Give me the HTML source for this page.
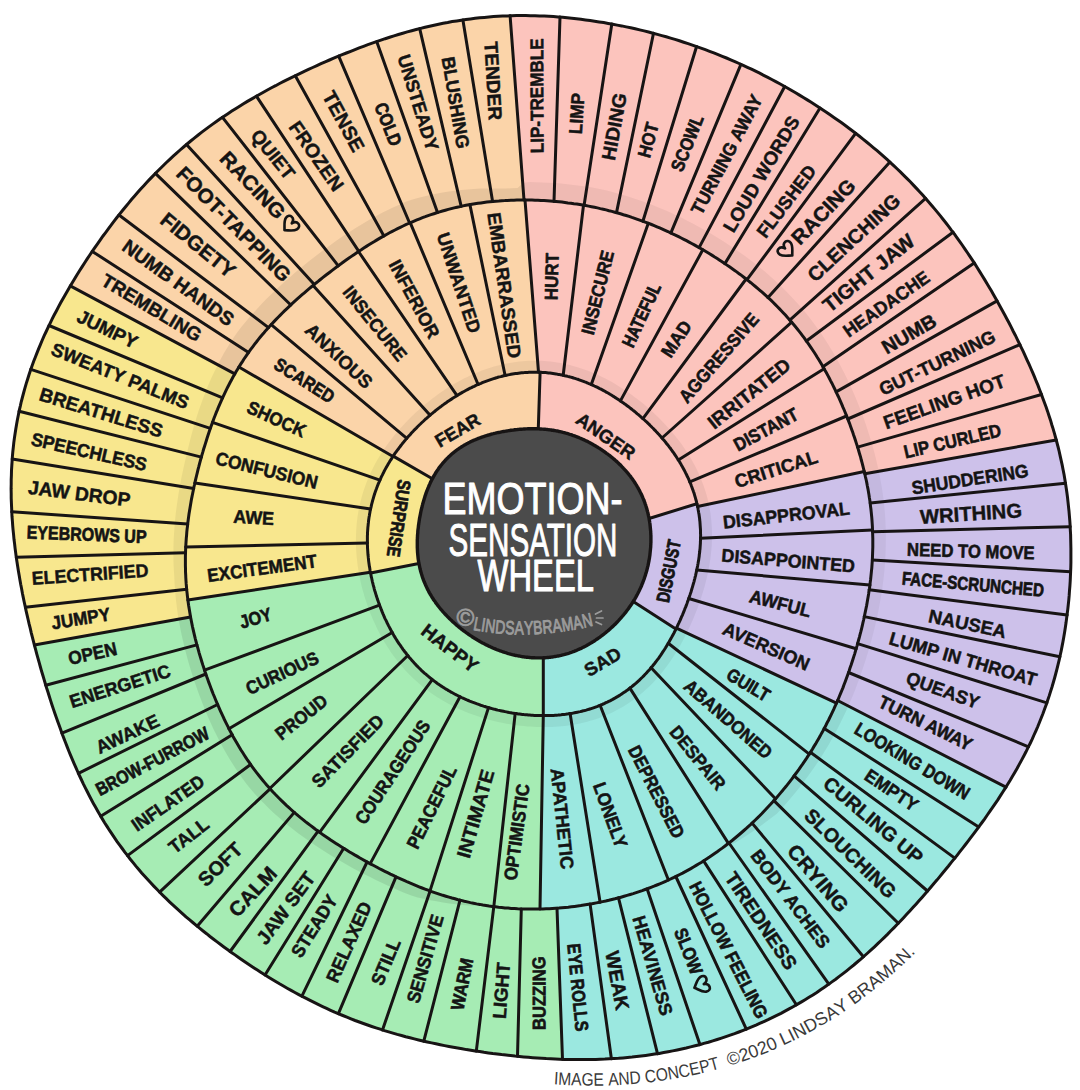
<!DOCTYPE html>
<html><head><meta charset="utf-8"><title>Emotion-Sensation Wheel</title>
<style>html,body{margin:0;padding:0;background:#fff;}body{width:1080px;height:1090px;overflow:hidden;font-family:"Liberation Sans",sans-serif;}svg{display:block;}</style>
</head><body>
<svg width="1080" height="1090" viewBox="0 0 1080 1090">
<rect width="1080" height="1090" fill="#ffffff"/>
<path d="M524.0 200.0 L510.1 15.8 L519.2 15.6 L528.4 15.6 L537.6 15.8 L546.7 16.2 L555.9 16.8 L565.0 17.6 L574.1 18.5 L583.1 19.6 L592.2 20.8 L601.2 22.2 L610.2 23.7 L619.2 25.4 L628.1 27.3 L637.0 29.2 L645.8 31.4 L654.6 33.6 L663.4 36.0 L672.1 38.6 L680.8 41.2 L689.4 44.1 L698.0 47.0 L706.5 50.1 L715.0 53.4 L723.4 56.7 L731.7 60.3 L740.0 63.9 L748.2 67.7 L756.4 71.6 L764.5 75.7 L772.5 79.8 L780.4 84.1 L788.3 88.5 L796.1 93.1 L803.9 97.7 L811.5 102.5 L819.1 107.4 L826.6 112.4 L834.1 117.5 L841.4 122.7 L848.7 128.1 L855.9 133.5 L863.0 139.1 L870.0 144.8 L876.9 150.6 L883.7 156.5 L890.4 162.6 L897.0 168.7 L903.5 175.0 L909.9 181.5 L916.1 188.0 L922.3 194.6 L928.3 201.4 L934.1 208.3 L939.9 215.2 L945.5 222.3 L951.0 229.5 L956.3 236.8 L961.6 244.1 L966.7 251.6 L971.7 259.1 L976.6 266.7 L981.4 274.3 L986.1 282.0 L990.7 289.8 L995.2 297.6 L999.7 305.5 L1004.0 313.5 L1008.2 321.5 L1012.4 329.5 L1016.5 337.6 L1020.5 345.8 L1024.4 354.0 L1028.1 362.3 L1031.8 370.7 L1035.4 379.1 L1038.8 387.6 L1042.1 396.1 L1045.2 404.7 L1048.2 413.4 L1051.1 422.2 L1053.7 431.0 L1056.2 439.9 L864.8 473.8 L863.5 468.1 L862.0 462.4 L860.5 456.8 L858.8 451.2 L857.1 445.6 L855.3 440.0 L853.4 434.4 L851.5 428.9 L849.5 423.4 L847.4 417.9 L845.2 412.5 L842.9 407.1 L840.6 401.7 L838.2 396.4 L835.7 391.0 L833.1 385.8 L830.5 380.5 L827.7 375.3 L824.9 370.2 L822.0 365.1 L819.0 360.0 L815.8 355.0 L812.6 350.0 L809.3 345.2 L805.9 340.3 L802.4 335.6 L798.8 330.9 L795.1 326.3 L791.3 321.8 L787.4 317.4 L783.5 313.0 L779.4 308.7 L775.2 304.5 L771.0 300.4 L766.7 296.4 L762.3 292.4 L757.8 288.5 L753.3 284.7 L748.7 281.0 L744.1 277.4 L739.4 273.8 L734.6 270.4 L729.8 267.0 L724.9 263.6 L720.0 260.4 L715.0 257.2 L710.0 254.1 L705.0 251.0 L699.9 248.0 L694.7 245.1 L689.5 242.3 L684.3 239.6 L679.0 236.9 L673.7 234.3 L668.4 231.8 L663.0 229.3 L657.5 227.0 L652.1 224.7 L646.5 222.6 L641.0 220.5 L635.4 218.5 L629.8 216.6 L624.1 214.9 L618.4 213.2 L612.6 211.6 L606.9 210.1 L601.1 208.7 L595.3 207.5 L589.4 206.3 L583.6 205.2 L577.7 204.2 L571.8 203.4 L565.8 202.6 L559.9 201.9 L553.9 201.4 L548.0 200.9 L542.0 200.5 L536.0 200.3 L530.0 200.1 L524.0 200.0Z" fill="#FCC4BD" stroke="#FCC4BD" stroke-width="0.8"/>
<path d="M864.8 473.8 L1056.2 439.9 L1058.5 448.8 L1060.6 457.8 L1062.5 466.8 L1064.2 475.9 L1065.8 485.0 L1067.1 494.1 L1068.2 503.3 L1069.1 512.5 L1069.9 521.7 L1070.4 531.0 L1070.7 540.2 L1070.9 549.5 L1070.9 558.7 L1070.7 568.0 L1070.4 577.3 L1069.8 586.5 L1069.1 595.8 L1068.2 605.0 L1067.2 614.2 L1066.0 623.4 L1064.5 632.6 L1062.9 641.7 L1061.2 650.8 L1059.2 659.9 L1057.0 668.9 L1054.6 677.9 L1052.1 686.8 L1049.3 695.6 L1046.3 704.4 L1043.1 713.1 L1039.7 721.7 L1036.1 730.2 L1032.4 738.6 L1028.4 747.0 L1024.2 755.2 L1019.9 763.4 L1015.4 771.4 L1010.7 779.3 L1005.9 787.2 L837.6 700.5 L839.9 695.1 L842.1 689.7 L844.2 684.2 L846.3 678.8 L848.3 673.3 L850.2 667.8 L852.0 662.3 L853.7 656.7 L855.4 651.2 L857.1 645.6 L858.6 640.0 L860.1 634.4 L861.5 628.8 L862.9 623.2 L864.1 617.5 L865.3 611.9 L866.5 606.2 L867.5 600.5 L868.5 594.8 L869.3 589.1 L870.1 583.3 L870.8 577.6 L871.4 571.8 L871.9 566.0 L872.3 560.2 L872.6 554.4 L872.7 548.6 L872.8 542.8 L872.8 537.0 L872.6 531.2 L872.3 525.4 L871.9 519.6 L871.4 513.9 L870.8 508.1 L870.1 502.3 L869.2 496.6 L868.3 490.9 L867.2 485.2 L866.1 479.5 L864.8 473.8Z" fill="#CDC1EA" stroke="#CDC1EA" stroke-width="0.8"/>
<path d="M837.6 700.5 L1005.9 787.2 L1000.9 794.9 L995.9 802.6 L990.7 810.2 L985.4 817.7 L980.0 825.2 L974.6 832.5 L969.1 839.8 L963.5 847.1 L957.9 854.2 L952.2 861.3 L946.5 868.4 L940.7 875.4 L934.9 882.4 L929.0 889.3 L923.0 896.2 L917.0 903.0 L910.9 909.8 L904.7 916.5 L898.5 923.1 L892.1 929.6 L885.7 936.1 L879.1 942.5 L872.4 948.7 L865.6 954.8 L858.7 960.8 L851.7 966.7 L844.5 972.4 L837.2 978.0 L829.8 983.4 L822.3 988.7 L814.6 993.8 L806.8 998.7 L798.9 1003.4 L791.0 1007.9 L782.9 1012.3 L774.7 1016.4 L766.4 1020.4 L758.0 1024.2 L749.6 1027.8 L741.0 1031.2 L732.4 1034.4 L723.8 1037.4 L715.0 1040.2 L706.2 1042.8 L697.4 1045.2 L688.5 1047.4 L679.6 1049.5 L670.7 1051.3 L661.7 1053.0 L652.7 1054.4 L643.7 1055.7 L634.7 1056.8 L625.6 1057.7 L616.6 1058.4 L607.5 1058.9 L598.5 1059.3 L589.5 1059.6 L580.5 1059.6 L571.4 1059.5 L562.5 1059.3 L557.0 908.2 L563.3 907.7 L569.5 907.0 L575.8 906.3 L582.0 905.4 L588.2 904.4 L594.4 903.3 L600.5 902.1 L606.6 900.8 L612.7 899.3 L618.8 897.8 L624.8 896.1 L630.8 894.3 L636.8 892.4 L642.7 890.4 L648.6 888.3 L654.4 886.0 L660.2 883.7 L665.9 881.2 L671.5 878.6 L677.1 875.8 L682.7 873.0 L688.2 870.1 L693.6 867.0 L698.9 863.8 L704.2 860.5 L709.4 857.2 L714.5 853.7 L719.5 850.1 L724.5 846.4 L729.3 842.7 L734.1 838.8 L738.9 834.9 L743.5 830.9 L748.1 826.8 L752.6 822.6 L757.0 818.4 L761.3 814.1 L765.5 809.7 L769.7 805.3 L773.8 800.8 L777.8 796.2 L781.7 791.6 L785.5 787.0 L789.3 782.2 L793.0 777.5 L796.5 772.7 L800.0 767.8 L803.5 762.9 L806.8 757.9 L810.0 752.9 L813.2 747.8 L816.3 742.7 L819.2 737.6 L822.1 732.4 L824.9 727.1 L827.6 721.9 L830.3 716.6 L832.8 711.2 L835.3 705.9 L837.6 700.5Z" fill="#9BE8E0" stroke="#9BE8E0" stroke-width="0.8"/>
<path d="M557.0 908.2 L562.5 1059.3 L553.5 1059.0 L544.5 1058.5 L535.6 1057.9 L526.7 1057.2 L517.8 1056.3 L508.9 1055.4 L500.1 1054.4 L491.3 1053.3 L482.5 1052.0 L473.7 1050.7 L464.9 1049.3 L456.2 1047.8 L447.5 1046.2 L438.8 1044.5 L430.2 1042.6 L421.5 1040.6 L412.9 1038.6 L404.4 1036.3 L395.9 1034.0 L387.4 1031.5 L378.9 1028.8 L370.5 1026.0 L362.2 1023.1 L353.9 1020.0 L345.7 1016.7 L337.5 1013.3 L329.4 1009.7 L321.4 1006.0 L313.5 1002.2 L305.6 998.2 L297.8 994.1 L290.0 989.8 L282.3 985.4 L274.7 980.9 L267.2 976.3 L259.7 971.6 L252.3 966.8 L245.0 961.9 L237.7 956.9 L230.5 951.8 L223.3 946.6 L216.2 941.3 L209.2 935.9 L202.3 930.3 L195.4 924.7 L188.6 919.0 L181.9 913.2 L175.4 907.2 L168.9 901.2 L162.5 895.0 L156.2 888.6 L150.1 882.2 L144.1 875.6 L138.3 868.8 L132.6 862.0 L127.0 855.0 L121.7 847.9 L116.5 840.6 L111.5 833.3 L106.6 825.8 L101.9 818.2 L97.4 810.5 L93.1 802.7 L88.9 794.9 L84.9 786.9 L81.0 778.9 L77.3 770.8 L73.7 762.7 L70.3 754.5 L67.0 746.3 L63.8 738.0 L60.7 729.7 L57.7 721.4 L54.8 713.0 L52.0 704.6 L49.2 696.2 L46.6 687.8 L44.0 679.3 L41.5 670.8 L39.1 662.3 L36.7 653.7 L34.4 645.1 L190.6 616.9 L191.7 622.9 L193.0 628.9 L194.4 634.9 L195.9 640.8 L197.4 646.8 L199.1 652.7 L200.8 658.6 L202.7 664.4 L204.6 670.3 L206.6 676.1 L208.6 681.9 L210.8 687.7 L213.0 693.4 L215.3 699.1 L217.7 704.8 L220.2 710.5 L222.8 716.1 L225.5 721.7 L228.2 727.3 L231.1 732.8 L234.1 738.3 L237.2 743.7 L240.4 749.0 L243.7 754.3 L247.2 759.5 L250.7 764.7 L254.4 769.7 L258.2 774.7 L262.1 779.5 L266.2 784.3 L270.3 789.0 L274.6 793.6 L278.9 798.1 L283.4 802.5 L288.0 806.8 L292.6 810.9 L297.4 815.0 L302.2 819.0 L307.1 822.9 L312.0 826.7 L317.1 830.4 L322.1 834.1 L327.3 837.6 L332.4 841.1 L337.7 844.5 L342.9 847.8 L348.3 851.1 L353.6 854.3 L359.0 857.4 L364.4 860.5 L369.9 863.5 L375.4 866.4 L380.9 869.3 L386.5 872.1 L392.1 874.9 L397.8 877.6 L403.5 880.2 L409.2 882.7 L415.0 885.1 L420.8 887.5 L426.7 889.7 L432.6 891.8 L438.6 893.9 L444.6 895.8 L450.6 897.6 L456.7 899.3 L462.8 900.8 L469.0 902.3 L475.2 903.6 L481.4 904.7 L487.6 905.7 L493.9 906.6 L500.2 907.4 L506.5 908.0 L512.8 908.5 L519.1 908.8 L525.4 909.0 L531.8 909.1 L538.1 909.1 L544.4 908.9 L550.7 908.6 L557.0 908.2Z" fill="#A6ECB4" stroke="#A6ECB4" stroke-width="0.8"/>
<path d="M190.6 616.9 L34.4 645.1 L32.2 636.6 L30.1 628.0 L28.1 619.4 L26.1 610.8 L24.3 602.1 L22.5 593.4 L20.8 584.6 L19.2 575.8 L17.8 567.0 L16.4 558.1 L15.2 549.1 L14.1 540.2 L13.2 531.2 L12.4 522.2 L11.8 513.1 L11.4 504.0 L11.2 494.9 L11.1 485.8 L11.3 476.7 L11.7 467.5 L12.3 458.4 L13.1 449.3 L14.2 440.2 L15.4 431.1 L17.0 422.0 L18.7 413.0 L20.7 404.0 L23.0 395.1 L25.4 386.3 L28.1 377.5 L31.0 368.8 L34.2 360.1 L37.5 351.5 L41.0 343.1 L44.7 334.7 L48.6 326.3 L52.7 318.1 L56.9 309.9 L61.2 301.8 L65.7 293.8 L70.3 285.9 L234.8 373.9 L231.9 379.1 L229.1 384.3 L226.4 389.6 L223.9 395.0 L221.4 400.4 L219.0 405.9 L216.7 411.4 L214.6 416.9 L212.5 422.5 L210.5 428.1 L208.5 433.7 L206.7 439.4 L204.9 445.0 L203.2 450.7 L201.5 456.5 L200.0 462.2 L198.5 467.9 L197.0 473.7 L195.6 479.5 L194.3 485.3 L193.1 491.2 L191.9 497.0 L190.9 502.9 L189.9 508.8 L188.9 514.8 L188.1 520.7 L187.4 526.7 L186.8 532.6 L186.3 538.6 L185.9 544.7 L185.6 550.7 L185.4 556.7 L185.4 562.8 L185.5 568.8 L185.7 574.8 L186.0 580.9 L186.5 586.9 L187.0 592.9 L187.7 599.0 L188.6 605.0 L189.5 611.0 L190.6 616.9Z" fill="#F8E78E" stroke="#F8E78E" stroke-width="0.8"/>
<path d="M234.8 373.9 L70.3 285.9 L75.0 278.1 L79.8 270.3 L84.8 262.6 L89.8 255.0 L95.0 247.4 L100.2 239.9 L105.6 232.5 L111.0 225.2 L116.6 218.0 L122.3 210.8 L128.1 203.7 L134.0 196.7 L140.0 189.9 L146.1 183.1 L152.4 176.5 L158.8 169.9 L165.3 163.5 L172.0 157.3 L178.8 151.2 L185.7 145.2 L192.7 139.4 L199.9 133.7 L207.2 128.2 L214.5 122.8 L222.0 117.6 L229.6 112.5 L237.3 107.6 L245.0 102.9 L252.9 98.2 L260.8 93.7 L268.7 89.3 L276.7 85.0 L284.8 80.9 L292.9 76.8 L301.1 72.9 L309.3 69.0 L317.5 65.3 L325.8 61.6 L334.2 58.0 L342.5 54.5 L350.9 51.2 L359.4 47.9 L367.9 44.7 L376.5 41.7 L385.1 38.8 L393.7 36.0 L402.4 33.3 L411.2 30.9 L420.0 28.5 L428.8 26.4 L437.7 24.4 L446.7 22.6 L455.7 21.1 L464.7 19.7 L473.7 18.5 L482.8 17.5 L491.9 16.7 L501.0 16.2 L510.1 15.8 L524.0 200.0 L518.0 200.1 L512.1 200.2 L506.1 200.5 L500.1 200.9 L494.1 201.4 L488.2 202.0 L482.2 202.7 L476.3 203.6 L470.4 204.5 L464.5 205.6 L458.6 206.9 L452.8 208.2 L447.0 209.7 L441.2 211.4 L435.5 213.2 L429.8 215.1 L424.2 217.1 L418.6 219.2 L413.0 221.5 L407.5 223.9 L402.1 226.4 L396.8 229.1 L391.4 231.8 L386.2 234.6 L381.0 237.5 L375.9 240.6 L370.8 243.6 L365.7 246.8 L360.8 250.0 L355.8 253.3 L350.9 256.7 L346.1 260.1 L341.3 263.6 L336.5 267.1 L331.8 270.6 L327.1 274.2 L322.5 277.9 L317.9 281.5 L313.3 285.3 L308.7 289.1 L304.2 292.9 L299.8 296.8 L295.4 300.7 L291.0 304.7 L286.7 308.8 L282.4 313.0 L278.2 317.2 L274.1 321.5 L270.1 325.8 L266.1 330.3 L262.2 334.8 L258.4 339.4 L254.7 344.1 L251.1 348.9 L247.7 353.7 L244.3 358.6 L241.0 363.6 L237.9 368.7 L234.8 373.9Z" fill="#FBD4A9" stroke="#FBD4A9" stroke-width="0.8"/>
<path d="M538.5 372.2 L525.0 200.0 L531.0 200.1 L536.9 200.3 L542.8 200.6 L548.8 200.9 L554.7 201.4 L560.6 202.0 L566.5 202.7 L572.4 203.5 L578.3 204.3 L584.1 205.3 L589.9 206.4 L595.7 207.6 L601.5 208.8 L607.2 210.2 L613.0 211.7 L618.7 213.3 L624.3 214.9 L630.0 216.7 L635.5 218.6 L641.1 220.5 L646.6 222.6 L652.1 224.8 L657.5 227.0 L662.9 229.3 L668.3 231.7 L673.6 234.2 L678.9 236.8 L684.1 239.5 L689.3 242.2 L694.5 245.0 L699.6 247.9 L704.6 250.8 L709.7 253.8 L714.6 256.9 L719.6 260.1 L724.4 263.3 L729.3 266.6 L734.1 270.0 L738.8 273.4 L743.5 277.0 L748.1 280.6 L752.7 284.2 L757.2 288.0 L761.6 291.8 L766.0 295.7 L770.3 299.7 L774.5 303.8 L778.6 307.9 L782.7 312.2 L786.7 316.5 L790.5 320.9 L794.3 325.4 L798.0 329.9 L801.6 334.5 L805.1 339.2 L808.5 344.0 L811.8 348.8 L815.0 353.7 L818.2 358.7 L821.2 363.7 L824.1 368.8 L827.0 373.9 L829.7 379.0 L832.4 384.2 L834.9 389.4 L837.4 394.7 L839.9 400.0 L842.2 405.3 L844.5 410.7 L846.6 416.1 L848.8 421.5 L850.8 427.0 L852.8 432.4 L854.6 437.9 L856.5 443.5 L858.2 449.0 L859.8 454.6 L861.4 460.2 L862.9 465.8 L864.3 471.5 L697.5 506.5 L696.9 503.7 L696.2 500.9 L695.5 498.1 L694.7 495.3 L693.8 492.5 L692.8 489.8 L691.9 487.0 L690.8 484.3 L689.7 481.7 L688.6 479.0 L687.3 476.4 L686.1 473.8 L684.8 471.2 L683.4 468.6 L682.0 466.1 L680.6 463.6 L679.1 461.1 L677.5 458.7 L675.9 456.2 L674.3 453.9 L672.6 451.5 L670.9 449.2 L669.2 446.9 L667.4 444.6 L665.6 442.3 L663.8 440.1 L661.9 437.9 L660.0 435.8 L658.1 433.6 L656.1 431.5 L654.1 429.4 L652.1 427.4 L650.1 425.3 L648.0 423.3 L645.9 421.4 L643.8 419.4 L641.7 417.5 L639.5 415.6 L637.3 413.7 L635.1 411.9 L632.8 410.1 L630.5 408.3 L628.2 406.5 L625.9 404.8 L623.5 403.1 L621.2 401.4 L618.8 399.8 L616.3 398.2 L613.9 396.6 L611.4 395.1 L608.9 393.6 L606.3 392.1 L603.7 390.7 L601.2 389.3 L598.5 388.0 L595.9 386.7 L593.2 385.4 L590.5 384.2 L587.8 383.1 L585.0 382.0 L582.3 380.9 L579.5 379.9 L576.6 379.0 L573.8 378.1 L570.9 377.2 L568.1 376.5 L565.2 375.7 L562.2 375.1 L559.3 374.5 L556.4 374.0 L553.4 373.5 L550.5 373.1 L547.5 372.8 L544.5 372.5 L541.5 372.3 L538.5 372.2Z" fill="#FCC4BD" stroke="#FCC4BD" stroke-width="0.8"/>
<path d="M697.5 506.5 L864.3 471.5 L865.6 477.1 L866.7 482.8 L867.8 488.5 L868.8 494.2 L869.7 499.9 L870.5 505.6 L871.2 511.4 L871.7 517.2 L872.2 522.9 L872.5 528.7 L872.7 534.5 L872.8 540.3 L872.8 546.1 L872.7 551.9 L872.4 557.7 L872.1 563.4 L871.6 569.2 L871.1 575.0 L870.4 580.7 L869.7 586.4 L868.9 592.2 L867.9 597.9 L866.9 603.6 L865.9 609.2 L864.7 614.9 L863.5 620.5 L862.2 626.2 L860.8 631.8 L859.3 637.4 L857.8 643.0 L856.2 648.5 L854.6 654.1 L852.8 659.6 L851.0 665.1 L849.2 670.6 L847.3 676.1 L845.2 681.6 L843.2 687.0 L841.0 692.4 L838.8 697.8 L836.5 703.2 L676.4 628.1 L677.6 625.6 L678.9 623.0 L680.0 620.4 L681.2 617.8 L682.3 615.2 L683.4 612.6 L684.5 609.9 L685.5 607.3 L686.5 604.7 L687.5 602.0 L688.4 599.4 L689.4 596.7 L690.3 594.0 L691.1 591.3 L692.0 588.6 L692.8 585.9 L693.6 583.2 L694.3 580.4 L695.0 577.7 L695.7 574.9 L696.3 572.2 L696.9 569.4 L697.5 566.6 L698.0 563.8 L698.5 561.0 L698.9 558.1 L699.3 555.3 L699.6 552.5 L699.9 549.6 L700.1 546.7 L700.3 543.9 L700.5 541.0 L700.5 538.1 L700.6 535.2 L700.5 532.3 L700.4 529.5 L700.3 526.6 L700.1 523.7 L699.8 520.8 L699.5 517.9 L699.1 515.1 L698.6 512.2 L698.1 509.3 L697.5 506.5Z" fill="#CDC1EA" stroke="#CDC1EA" stroke-width="0.8"/>
<path d="M676.4 628.1 L836.5 703.2 L834.0 708.6 L831.5 713.9 L828.9 719.3 L826.3 724.6 L823.5 729.8 L820.6 735.1 L817.7 740.3 L814.7 745.4 L811.5 750.5 L808.3 755.6 L805.0 760.6 L801.6 765.5 L798.2 770.4 L794.6 775.3 L790.9 780.1 L787.2 784.9 L783.4 789.6 L779.5 794.2 L775.5 798.8 L771.5 803.3 L767.3 807.8 L763.1 812.2 L758.8 816.6 L754.4 820.9 L749.9 825.1 L745.4 829.2 L740.8 833.3 L736.1 837.2 L731.3 841.1 L726.4 845.0 L721.5 848.7 L716.4 852.3 L711.3 855.8 L706.2 859.3 L700.9 862.6 L695.6 865.8 L690.2 868.9 L684.7 871.9 L679.2 874.8 L673.6 877.6 L667.9 880.2 L662.2 882.8 L656.4 885.2 L650.6 887.5 L644.7 889.7 L638.8 891.7 L632.8 893.7 L626.8 895.5 L620.8 897.2 L614.7 898.8 L608.6 900.3 L602.5 901.7 L596.3 902.9 L590.1 904.1 L583.9 905.1 L577.7 906.0 L571.4 906.8 L565.2 907.5 L558.9 908.1 L552.6 908.5 L546.3 908.8 L540.0 909.0 L543.3 715.6 L546.3 715.6 L549.3 715.6 L552.3 715.4 L555.2 715.3 L558.2 715.0 L561.2 714.8 L564.2 714.4 L567.1 714.0 L570.1 713.6 L573.0 713.1 L576.0 712.5 L578.9 711.9 L581.8 711.2 L584.7 710.5 L587.6 709.6 L590.5 708.8 L593.4 707.8 L596.2 706.8 L599.0 705.7 L601.8 704.6 L604.5 703.4 L607.3 702.1 L610.0 700.8 L612.6 699.4 L615.2 697.9 L617.8 696.4 L620.4 694.8 L622.9 693.2 L625.4 691.5 L627.8 689.7 L630.2 687.9 L632.5 686.1 L634.8 684.2 L637.1 682.2 L639.3 680.2 L641.4 678.1 L643.5 676.0 L645.6 673.9 L647.6 671.7 L649.6 669.5 L651.5 667.3 L653.4 665.0 L655.2 662.7 L657.0 660.3 L658.7 658.0 L660.4 655.6 L662.1 653.2 L663.7 650.7 L665.2 648.3 L666.8 645.8 L668.2 643.3 L669.7 640.8 L671.1 638.3 L672.5 635.8 L673.8 633.2 L675.1 630.7 L676.4 628.1Z" fill="#9BE8E0" stroke="#9BE8E0" stroke-width="0.8"/>
<path d="M543.3 715.6 L540.0 909.0 L533.7 909.1 L527.3 909.1 L521.0 908.9 L514.7 908.6 L508.3 908.2 L502.0 907.6 L495.7 906.9 L489.5 906.0 L483.2 905.0 L477.0 903.9 L470.8 902.7 L464.6 901.3 L458.5 899.7 L452.4 898.1 L446.3 896.3 L440.3 894.4 L434.3 892.4 L428.4 890.3 L422.5 888.1 L416.6 885.8 L410.8 883.4 L405.1 880.9 L399.3 878.3 L393.7 875.6 L388.0 872.9 L382.4 870.1 L376.9 867.2 L371.4 864.3 L365.9 861.3 L360.4 858.2 L355.0 855.1 L349.7 851.9 L344.3 848.7 L339.1 845.4 L333.8 842.0 L328.6 838.5 L323.5 835.0 L318.4 831.4 L313.3 827.7 L308.3 823.9 L303.4 820.0 L298.6 816.1 L293.8 812.0 L289.1 807.8 L284.5 803.6 L280.0 799.2 L275.7 794.7 L271.4 790.2 L267.2 785.5 L263.1 780.7 L259.2 775.9 L255.3 770.9 L251.6 765.9 L248.0 760.8 L244.6 755.6 L241.2 750.3 L238.0 744.9 L234.8 739.5 L231.8 734.1 L228.9 728.6 L226.1 723.0 L223.4 717.4 L220.8 711.8 L218.3 706.1 L215.9 700.4 L213.5 694.7 L211.3 688.9 L209.1 683.2 L207.0 677.4 L205.0 671.6 L203.1 665.7 L201.2 659.8 L199.5 654.0 L197.8 648.0 L196.2 642.1 L194.7 636.2 L193.3 630.2 L192.0 624.2 L190.8 618.2 L189.7 612.2 L188.7 606.1 L187.9 600.1 L370.4 572.2 L371.0 575.0 L371.6 577.8 L372.2 580.7 L372.9 583.5 L373.6 586.3 L374.3 589.1 L375.1 591.8 L376.0 594.6 L376.8 597.3 L377.8 600.1 L378.7 602.8 L379.7 605.5 L380.7 608.2 L381.8 610.9 L382.9 613.6 L384.1 616.2 L385.2 618.9 L386.5 621.5 L387.7 624.1 L389.1 626.7 L390.4 629.3 L391.8 631.8 L393.2 634.3 L394.7 636.8 L396.2 639.3 L397.8 641.8 L399.4 644.2 L401.1 646.6 L402.8 649.0 L404.5 651.3 L406.3 653.6 L408.1 655.9 L410.0 658.2 L411.9 660.4 L413.8 662.5 L415.8 664.7 L417.9 666.8 L420.0 668.8 L422.1 670.9 L424.2 672.9 L426.5 674.8 L428.7 676.7 L431.0 678.5 L433.3 680.3 L435.6 682.1 L438.0 683.8 L440.4 685.5 L442.9 687.1 L445.4 688.7 L447.9 690.2 L450.4 691.7 L453.0 693.1 L455.5 694.5 L458.2 695.8 L460.8 697.1 L463.5 698.4 L466.1 699.6 L468.8 700.7 L471.5 701.8 L474.3 702.9 L477.0 703.9 L479.8 704.9 L482.6 705.8 L485.4 706.7 L488.2 707.5 L491.0 708.3 L493.8 709.1 L496.7 709.8 L499.5 710.5 L502.4 711.1 L505.3 711.7 L508.1 712.3 L511.0 712.8 L513.9 713.3 L516.8 713.7 L519.8 714.1 L522.7 714.4 L525.6 714.7 L528.6 715.0 L531.5 715.2 L534.5 715.4 L537.4 715.5 L540.4 715.6 L543.3 715.6Z" fill="#A6ECB4" stroke="#A6ECB4" stroke-width="0.8"/>
<path d="M370.4 572.2 L187.9 600.1 L187.2 594.1 L186.6 588.2 L186.1 582.2 L185.7 576.2 L185.5 570.3 L185.4 564.3 L185.4 558.3 L185.5 552.4 L185.8 546.4 L186.1 540.5 L186.6 534.5 L187.2 528.6 L187.9 522.7 L188.6 516.8 L189.5 511.0 L190.5 505.1 L191.5 499.3 L192.6 493.5 L193.8 487.7 L195.1 482.0 L196.4 476.2 L197.8 470.5 L199.3 464.8 L200.8 459.1 L202.4 453.5 L204.1 447.8 L205.8 442.2 L207.6 436.6 L209.4 431.0 L211.4 425.5 L213.4 420.0 L215.5 414.5 L217.7 409.0 L220.0 403.6 L222.4 398.2 L224.9 392.9 L227.5 387.6 L230.2 382.4 L233.0 377.2 L235.9 372.1 L238.9 367.0 L393.0 456.5 L391.4 458.9 L389.9 461.3 L388.4 463.8 L386.9 466.3 L385.5 468.8 L384.2 471.3 L382.9 473.9 L381.6 476.5 L380.4 479.1 L379.2 481.8 L378.1 484.4 L377.0 487.1 L376.0 489.8 L375.1 492.5 L374.2 495.3 L373.3 498.1 L372.6 500.8 L371.8 503.6 L371.1 506.4 L370.5 509.3 L370.0 512.1 L369.5 514.9 L369.0 517.8 L368.6 520.6 L368.3 523.5 L368.0 526.4 L367.8 529.3 L367.6 532.1 L367.5 535.0 L367.4 537.9 L367.4 540.8 L367.4 543.7 L367.5 546.5 L367.6 549.4 L367.8 552.3 L368.1 555.1 L368.3 558.0 L368.7 560.8 L369.0 563.7 L369.4 566.5 L369.9 569.4 L370.4 572.2Z" fill="#F8E78E" stroke="#F8E78E" stroke-width="0.8"/>
<path d="M393.0 456.5 L238.9 367.0 L242.1 362.0 L245.4 357.0 L248.8 352.1 L252.3 347.3 L255.9 342.6 L259.6 337.9 L263.4 333.4 L267.3 328.9 L271.3 324.5 L275.3 320.2 L279.5 315.9 L283.7 311.7 L287.9 307.6 L292.3 303.6 L296.6 299.6 L301.1 295.7 L305.5 291.8 L310.0 288.0 L314.5 284.2 L319.1 280.5 L323.7 276.9 L328.4 273.2 L333.1 269.7 L337.8 266.1 L342.5 262.7 L347.3 259.2 L352.2 255.8 L357.1 252.5 L362.0 249.2 L367.0 246.0 L372.0 242.9 L377.1 239.8 L382.2 236.9 L387.4 234.0 L392.7 231.2 L398.0 228.5 L403.3 225.9 L408.8 223.4 L414.2 221.0 L419.8 218.8 L425.4 216.6 L431.0 214.6 L436.7 212.8 L442.4 211.0 L448.1 209.4 L453.9 208.0 L459.8 206.6 L465.6 205.4 L471.5 204.3 L477.4 203.4 L483.3 202.6 L489.3 201.9 L495.2 201.3 L501.2 200.8 L507.1 200.4 L513.1 200.2 L519.0 200.1 L525.0 200.0 L538.5 372.2 L535.5 372.2 L532.6 372.2 L529.6 372.3 L526.6 372.4 L523.6 372.6 L520.7 372.9 L517.7 373.3 L514.8 373.7 L511.8 374.2 L508.9 374.7 L506.0 375.3 L503.1 376.0 L500.2 376.7 L497.4 377.5 L494.5 378.3 L491.7 379.2 L488.9 380.2 L486.1 381.2 L483.4 382.3 L480.7 383.4 L478.0 384.5 L475.3 385.8 L472.6 387.0 L470.0 388.3 L467.4 389.7 L464.8 391.0 L462.3 392.5 L459.7 393.9 L457.2 395.4 L454.8 396.9 L452.3 398.5 L449.9 400.1 L447.5 401.8 L445.1 403.4 L442.8 405.1 L440.5 406.8 L438.2 408.6 L435.9 410.4 L433.7 412.2 L431.5 414.0 L429.3 415.9 L427.1 417.8 L425.0 419.7 L422.9 421.6 L420.8 423.6 L418.7 425.6 L416.7 427.6 L414.7 429.7 L412.7 431.8 L410.7 433.9 L408.8 436.0 L406.9 438.2 L405.0 440.4 L403.2 442.6 L401.4 444.8 L399.7 447.1 L397.9 449.4 L396.2 451.7 L394.6 454.1 L393.0 456.5Z" fill="#FBD4A9" stroke="#FBD4A9" stroke-width="0.8"/>
<path d="M538.3 428.9 L540.1 372.3 L543.0 372.4 L546.0 372.7 L548.9 372.9 L551.9 373.3 L554.8 373.7 L557.8 374.2 L560.7 374.8 L563.6 375.4 L566.5 376.1 L569.3 376.8 L572.2 377.6 L575.0 378.4 L577.8 379.3 L580.6 380.3 L583.4 381.3 L586.1 382.4 L588.9 383.5 L591.6 384.7 L594.2 385.9 L596.9 387.2 L599.5 388.5 L602.1 389.8 L604.7 391.2 L607.2 392.6 L609.7 394.1 L612.2 395.6 L614.7 397.1 L617.1 398.7 L619.5 400.3 L621.9 401.9 L624.3 403.6 L626.6 405.3 L628.9 407.0 L631.2 408.8 L633.4 410.6 L635.6 412.4 L637.9 414.2 L640.0 416.1 L642.2 418.0 L644.3 419.9 L646.4 421.8 L648.5 423.8 L650.5 425.8 L652.6 427.8 L654.6 429.9 L656.5 431.9 L658.5 434.0 L660.4 436.1 L662.3 438.3 L664.1 440.5 L665.9 442.7 L667.7 444.9 L669.5 447.2 L671.2 449.5 L672.9 451.8 L674.5 454.2 L676.1 456.5 L677.7 458.9 L679.2 461.4 L680.7 463.8 L682.1 466.3 L683.5 468.8 L684.9 471.4 L686.2 473.9 L687.4 476.5 L688.6 479.1 L689.8 481.8 L690.9 484.4 L691.9 487.1 L692.9 489.8 L693.8 492.6 L694.7 495.3 L695.5 498.1 L696.2 500.9 L696.9 503.7 L649.1 518.5 L648.7 516.5 L648.3 514.5 L647.8 512.6 L647.3 510.6 L646.7 508.6 L646.1 506.7 L645.5 504.8 L644.9 502.8 L644.1 500.9 L643.4 499.0 L642.6 497.2 L641.8 495.3 L640.9 493.4 L640.0 491.6 L639.1 489.8 L638.1 488.0 L637.1 486.3 L636.0 484.5 L634.9 482.8 L633.8 481.1 L632.6 479.4 L631.4 477.8 L630.2 476.2 L629.0 474.6 L627.7 473.0 L626.4 471.4 L625.0 469.9 L623.7 468.4 L622.3 467.0 L620.8 465.5 L619.4 464.1 L617.9 462.7 L616.4 461.3 L614.9 460.0 L613.4 458.7 L611.9 457.4 L610.3 456.1 L608.7 454.9 L607.1 453.7 L605.5 452.5 L603.8 451.3 L602.2 450.2 L600.5 449.1 L598.8 448.0 L597.1 446.9 L595.4 445.9 L593.7 444.9 L591.9 443.9 L590.1 442.9 L588.4 442.0 L586.6 441.1 L584.8 440.2 L582.9 439.4 L581.1 438.5 L579.3 437.8 L577.4 437.0 L575.5 436.3 L573.6 435.6 L571.8 434.9 L569.8 434.3 L567.9 433.7 L566.0 433.2 L564.1 432.6 L562.1 432.1 L560.2 431.7 L558.2 431.3 L556.2 430.9 L554.3 430.5 L552.3 430.2 L550.3 429.9 L548.3 429.7 L546.3 429.4 L544.3 429.2 L542.3 429.1 L540.3 429.0 L538.3 428.9Z" fill="#FCC4BD" stroke="#FCC4BD" stroke-width="0.8"/>
<path d="M649.1 518.5 L696.9 503.7 L697.5 506.4 L698.1 509.3 L698.6 512.1 L699.1 514.9 L699.4 517.7 L699.8 520.6 L700.0 523.4 L700.3 526.2 L700.4 529.1 L700.5 531.9 L700.6 534.8 L700.5 537.6 L700.5 540.5 L700.3 543.3 L700.2 546.1 L700.0 549.0 L699.7 551.8 L699.4 554.6 L699.0 557.4 L698.6 560.2 L698.1 563.0 L697.6 565.7 L697.1 568.5 L696.5 571.2 L695.9 574.0 L695.3 576.7 L694.6 579.4 L693.8 582.1 L693.1 584.8 L692.3 587.5 L691.5 590.2 L690.7 592.8 L689.8 595.5 L688.9 598.1 L688.0 600.7 L687.0 603.4 L686.0 606.0 L685.0 608.6 L684.0 611.2 L682.9 613.7 L681.8 616.3 L680.7 618.9 L679.6 621.4 L678.4 624.0 L677.2 626.5 L675.9 629.1 L633.2 601.6 L634.2 600.0 L635.2 598.3 L636.1 596.6 L637.1 594.9 L638.0 593.2 L638.9 591.5 L639.7 589.7 L640.5 588.0 L641.3 586.2 L642.1 584.4 L642.8 582.6 L643.5 580.7 L644.1 578.9 L644.8 577.1 L645.4 575.2 L646.0 573.3 L646.5 571.4 L647.0 569.6 L647.5 567.7 L647.9 565.7 L648.4 563.8 L648.7 561.9 L649.1 560.0 L649.4 558.0 L649.7 556.1 L650.0 554.1 L650.2 552.2 L650.4 550.2 L650.6 548.2 L650.7 546.3 L650.8 544.3 L650.9 542.3 L650.9 540.3 L650.9 538.3 L650.9 536.4 L650.8 534.4 L650.7 532.4 L650.6 530.4 L650.4 528.4 L650.2 526.4 L650.0 524.4 L649.7 522.5 L649.4 520.5 L649.1 518.5Z" fill="#CDC1EA" stroke="#CDC1EA" stroke-width="0.8"/>
<path d="M633.2 601.6 L675.9 629.1 L674.7 631.6 L673.3 634.1 L672.0 636.7 L670.6 639.2 L669.2 641.7 L667.8 644.1 L666.3 646.6 L664.7 649.0 L663.2 651.5 L661.6 653.9 L659.9 656.3 L658.2 658.6 L656.5 661.0 L654.7 663.3 L652.9 665.6 L651.0 667.8 L649.1 670.1 L647.1 672.3 L645.1 674.4 L643.0 676.5 L640.9 678.6 L638.8 680.6 L636.6 682.6 L634.3 684.6 L632.0 686.4 L629.7 688.3 L627.3 690.1 L624.9 691.8 L622.5 693.5 L619.9 695.1 L617.4 696.7 L614.8 698.2 L612.2 699.6 L609.6 701.0 L606.9 702.3 L604.2 703.5 L601.4 704.7 L598.7 705.9 L595.9 706.9 L593.1 707.9 L590.2 708.9 L587.4 709.7 L584.5 710.5 L581.6 711.3 L578.7 712.0 L575.8 712.6 L572.9 713.1 L569.9 713.6 L567.0 714.1 L564.0 714.5 L561.1 714.8 L558.1 715.1 L555.2 715.3 L552.2 715.4 L549.2 715.6 L546.3 715.6 L543.3 715.6 L543.3 657.8 L545.2 657.7 L547.2 657.6 L549.2 657.4 L551.1 657.1 L553.1 656.9 L555.0 656.6 L557.0 656.2 L558.9 655.8 L560.8 655.4 L562.7 654.9 L564.6 654.4 L566.5 653.9 L568.4 653.3 L570.3 652.7 L572.2 652.0 L574.0 651.3 L575.8 650.6 L577.7 649.9 L579.5 649.1 L581.2 648.2 L583.0 647.4 L584.8 646.5 L586.5 645.6 L588.2 644.6 L589.9 643.6 L591.6 642.6 L593.3 641.6 L594.9 640.5 L596.6 639.4 L598.2 638.3 L599.8 637.2 L601.4 636.0 L602.9 634.8 L604.5 633.6 L606.0 632.4 L607.5 631.1 L609.0 629.9 L610.4 628.6 L611.9 627.2 L613.3 625.9 L614.7 624.5 L616.1 623.1 L617.5 621.7 L618.8 620.3 L620.1 618.9 L621.4 617.4 L622.7 615.9 L624.0 614.4 L625.2 612.9 L626.4 611.3 L627.6 609.8 L628.8 608.2 L629.9 606.6 L631.0 604.9 L632.1 603.3 L633.2 601.6Z" fill="#9BE8E0" stroke="#9BE8E0" stroke-width="0.8"/>
<path d="M543.3 657.8 L543.3 715.6 L540.4 715.6 L537.4 715.5 L534.5 715.4 L531.5 715.2 L528.6 715.0 L525.7 714.7 L522.8 714.4 L519.8 714.1 L516.9 713.7 L514.0 713.3 L511.1 712.8 L508.3 712.3 L505.4 711.7 L502.5 711.1 L499.7 710.5 L496.8 709.8 L494.0 709.1 L491.2 708.4 L488.3 707.6 L485.5 706.7 L482.8 705.9 L480.0 704.9 L477.2 704.0 L474.5 703.0 L471.8 701.9 L469.1 700.8 L466.4 699.7 L463.7 698.5 L461.0 697.2 L458.4 696.0 L455.8 694.6 L453.2 693.3 L450.7 691.8 L448.1 690.4 L445.6 688.9 L443.2 687.3 L440.7 685.7 L438.3 684.0 L435.9 682.3 L433.6 680.6 L431.3 678.8 L429.0 676.9 L426.8 675.1 L424.6 673.1 L422.4 671.2 L420.3 669.2 L418.2 667.1 L416.2 665.0 L414.2 662.9 L412.2 660.7 L410.3 658.5 L408.4 656.3 L406.6 654.0 L404.8 651.7 L403.1 649.4 L401.4 647.0 L399.7 644.6 L398.1 642.2 L396.5 639.8 L395.0 637.3 L393.5 634.8 L392.1 632.3 L390.7 629.8 L389.3 627.2 L388.0 624.7 L386.7 622.1 L385.5 619.5 L384.3 616.8 L383.2 614.2 L382.1 611.5 L381.0 608.9 L379.9 606.2 L378.9 603.5 L378.0 600.8 L377.1 598.0 L376.2 595.3 L375.3 592.5 L374.5 589.8 L373.8 587.0 L373.0 584.2 L372.4 581.4 L371.7 578.6 L371.1 575.8 L370.6 573.0 L418.9 563.5 L419.3 565.5 L419.7 567.4 L420.2 569.4 L420.7 571.4 L421.3 573.3 L421.9 575.3 L422.5 577.2 L423.2 579.1 L423.9 581.0 L424.6 582.9 L425.4 584.7 L426.3 586.6 L427.1 588.4 L428.0 590.2 L429.0 592.0 L430.0 593.7 L431.0 595.4 L432.0 597.2 L433.1 598.8 L434.2 600.5 L435.4 602.1 L436.5 603.8 L437.7 605.3 L438.9 606.9 L440.2 608.5 L441.5 610.0 L442.7 611.5 L444.1 613.0 L445.4 614.4 L446.7 615.8 L448.1 617.2 L449.5 618.6 L450.9 620.0 L452.3 621.3 L453.8 622.6 L455.2 623.9 L456.7 625.2 L458.2 626.4 L459.7 627.7 L461.2 628.9 L462.7 630.1 L464.2 631.2 L465.8 632.4 L467.4 633.5 L468.9 634.6 L470.5 635.7 L472.1 636.7 L473.7 637.8 L475.4 638.8 L477.0 639.8 L478.7 640.8 L480.3 641.7 L482.0 642.6 L483.7 643.5 L485.4 644.4 L487.1 645.3 L488.9 646.1 L490.6 646.9 L492.4 647.7 L494.1 648.5 L495.9 649.2 L497.7 649.9 L499.5 650.6 L501.3 651.3 L503.1 651.9 L505.0 652.5 L506.8 653.1 L508.7 653.6 L510.5 654.1 L512.4 654.6 L514.3 655.1 L516.2 655.5 L518.1 655.9 L520.0 656.2 L521.9 656.6 L523.8 656.9 L525.7 657.1 L527.7 657.3 L529.6 657.5 L531.6 657.7 L533.5 657.8 L535.5 657.9 L537.4 657.9 L539.4 657.9 L541.3 657.9 L543.3 657.8Z" fill="#A6ECB4" stroke="#A6ECB4" stroke-width="0.8"/>
<path d="M418.9 563.5 L370.6 573.0 L370.0 570.1 L369.6 567.3 L369.1 564.4 L368.7 561.5 L368.4 558.6 L368.1 555.8 L367.9 552.9 L367.7 550.0 L367.5 547.1 L367.4 544.2 L367.4 541.3 L367.4 538.3 L367.4 535.4 L367.6 532.5 L367.7 529.6 L368.0 526.7 L368.2 523.8 L368.6 520.9 L369.0 518.0 L369.4 515.1 L369.9 512.3 L370.5 509.4 L371.1 506.5 L371.8 503.7 L372.5 500.9 L373.3 498.1 L374.2 495.3 L375.1 492.5 L376.1 489.7 L377.1 487.0 L378.2 484.3 L379.3 481.6 L380.5 478.9 L381.7 476.3 L383.0 473.7 L384.3 471.1 L385.7 468.5 L387.1 466.0 L388.6 463.5 L390.1 461.0 L391.6 458.5 L393.2 456.1 L432.4 478.7 L431.4 480.6 L430.5 482.5 L429.6 484.5 L428.7 486.4 L427.9 488.4 L427.1 490.3 L426.4 492.3 L425.7 494.3 L425.0 496.3 L424.4 498.3 L423.7 500.3 L423.2 502.3 L422.6 504.4 L422.1 506.4 L421.6 508.4 L421.1 510.4 L420.7 512.5 L420.3 514.5 L419.9 516.5 L419.5 518.6 L419.2 520.6 L418.9 522.6 L418.6 524.7 L418.3 526.7 L418.1 528.7 L417.9 530.8 L417.7 532.8 L417.6 534.9 L417.4 536.9 L417.4 539.0 L417.3 541.0 L417.3 543.1 L417.3 545.1 L417.3 547.2 L417.4 549.2 L417.5 551.3 L417.6 553.3 L417.8 555.4 L418.0 557.4 L418.3 559.4 L418.6 561.5 L418.9 563.5Z" fill="#F8E78E" stroke="#F8E78E" stroke-width="0.8"/>
<path d="M432.4 478.7 L393.2 456.1 L394.9 453.7 L396.5 451.3 L398.2 449.0 L400.0 446.7 L401.8 444.4 L403.6 442.1 L405.4 439.9 L407.3 437.7 L409.2 435.5 L411.2 433.4 L413.1 431.3 L415.1 429.2 L417.2 427.1 L419.2 425.1 L421.3 423.1 L423.4 421.1 L425.5 419.2 L427.7 417.3 L429.9 415.4 L432.1 413.5 L434.3 411.7 L436.6 409.8 L438.9 408.1 L441.2 406.3 L443.5 404.6 L445.9 402.9 L448.3 401.2 L450.7 399.6 L453.1 398.0 L455.6 396.4 L458.1 394.9 L460.6 393.4 L463.2 391.9 L465.8 390.5 L468.4 389.1 L471.0 387.8 L473.6 386.5 L476.3 385.3 L479.0 384.1 L481.8 382.9 L484.5 381.8 L487.3 380.8 L490.1 379.8 L492.9 378.8 L495.8 378.0 L498.6 377.1 L501.5 376.4 L504.4 375.7 L507.3 375.0 L510.3 374.4 L513.2 373.9 L516.2 373.5 L519.1 373.1 L522.1 372.8 L525.1 372.5 L528.1 372.3 L531.1 372.2 L534.1 372.2 L537.1 372.2 L540.1 372.3 L538.3 428.9 L536.3 428.8 L534.2 428.8 L532.2 428.8 L530.2 428.8 L528.2 428.8 L526.2 428.9 L524.1 429.0 L522.1 429.1 L520.1 429.3 L518.1 429.5 L516.0 429.7 L514.0 429.9 L512.0 430.2 L510.0 430.4 L507.9 430.7 L505.9 431.1 L503.9 431.4 L501.9 431.8 L499.9 432.2 L497.8 432.6 L495.8 433.1 L493.8 433.6 L491.8 434.1 L489.8 434.6 L487.8 435.2 L485.8 435.8 L483.8 436.5 L481.8 437.2 L479.8 437.9 L477.8 438.6 L475.9 439.4 L473.9 440.3 L472.0 441.1 L470.1 442.1 L468.2 443.0 L466.3 444.0 L464.4 445.1 L462.6 446.2 L460.8 447.3 L459.0 448.5 L457.3 449.7 L455.5 451.0 L453.9 452.3 L452.2 453.7 L450.6 455.1 L449.0 456.6 L447.5 458.1 L446.0 459.6 L444.5 461.2 L443.1 462.8 L441.7 464.4 L440.4 466.1 L439.1 467.8 L437.9 469.6 L436.7 471.4 L435.6 473.2 L434.4 475.0 L433.4 476.9 L432.4 478.7Z" fill="#FBD4A9" stroke="#FBD4A9" stroke-width="0.8"/>
<path d="M523.5 182.7 L529.8 182.1 L536.1 182.2 L542.4 182.4 L548.7 182.7 L554.9 183.1 L561.2 183.6 L567.5 184.2 L573.7 184.9 L580.0 185.7 L586.2 186.6 L592.4 187.6 L598.6 188.8 L604.7 190.1 L610.8 191.6 L616.9 193.2 L623.0 195.0 L629.0 196.8 L634.9 198.7 L640.9 200.7 L646.8 202.8 L652.6 205.1 L658.4 207.4 L664.2 209.8 L669.9 212.3 L675.6 214.9 L681.2 217.6 L686.8 220.4 L692.3 223.2 L697.8 226.2 L703.2 229.2 L708.6 232.3 L714.0 235.4 L719.3 238.7 L724.5 242.0 L729.7 245.4 L734.9 248.9 L740.0 252.4 L745.0 256.0 L750.0 259.8 L754.9 263.5 L759.8 267.4 L764.6 271.3 L769.3 275.4 L773.9 279.5 L778.4 283.7 L782.9 288.0 L787.3 292.4 L791.6 296.9 L795.8 301.4 L799.9 306.1 L804.0 310.8 L807.9 315.6 L811.7 320.5 L815.4 325.4 L819.0 330.4 L822.5 335.5 L825.9 340.7 L829.2 345.9 L832.4 351.2 L835.5 356.5 L838.5 361.9 L841.4 367.4 L844.3 372.9 L847.0 378.4 L849.6 383.9 L852.1 389.5 L854.6 395.2 L856.9 400.8 L859.2 406.5 L861.4 412.2 L863.6 418.0 L865.6 423.7 L867.5 429.5 L869.4 435.4 L871.2 441.2 L872.9 447.1 L874.5 453.0 L876.0 458.9 L877.4 464.9 L878.7 470.8 L864.8 473.8 L863.5 468.1 L862.0 462.4 L860.5 456.8 L858.8 451.2 L857.1 445.6 L855.3 440.0 L853.4 434.4 L851.5 428.9 L849.5 423.4 L847.4 417.9 L845.2 412.5 L842.9 407.1 L840.6 401.7 L838.2 396.4 L835.7 391.0 L833.1 385.8 L830.5 380.5 L827.7 375.3 L824.9 370.2 L822.0 365.1 L819.0 360.0 L815.8 355.0 L812.6 350.0 L809.3 345.2 L805.9 340.3 L802.4 335.6 L798.8 330.9 L795.1 326.3 L791.3 321.8 L787.4 317.4 L783.5 313.0 L779.4 308.7 L775.2 304.5 L771.0 300.4 L766.7 296.4 L762.3 292.4 L757.8 288.5 L753.3 284.7 L748.7 281.0 L744.1 277.4 L739.4 273.8 L734.6 270.4 L729.8 267.0 L724.9 263.6 L720.0 260.4 L715.0 257.2 L710.0 254.1 L705.0 251.0 L699.9 248.0 L694.7 245.1 L689.5 242.3 L684.3 239.6 L679.0 236.9 L673.7 234.3 L668.4 231.8 L663.0 229.3 L657.5 227.0 L652.1 224.7 L646.5 222.6 L641.0 220.5 L635.4 218.5 L629.8 216.6 L624.1 214.9 L618.4 213.2 L612.6 211.6 L606.9 210.1 L601.1 208.7 L595.3 207.5 L589.4 206.3 L583.6 205.2 L577.7 204.2 L571.8 203.4 L565.8 202.6 L559.9 201.9 L553.9 201.4 L548.0 200.9 L542.0 200.5 L536.0 200.3 L530.0 200.1 L524.0 200.0Z" fill="#000" fill-opacity="0.052"/>
<path d="M878.7 470.8 L879.9 476.7 L881.0 482.7 L882.0 488.6 L882.9 494.6 L883.7 500.6 L884.3 506.6 L884.9 512.6 L885.3 518.6 L885.6 524.7 L885.8 530.7 L885.9 536.7 L885.8 542.8 L885.7 548.8 L885.5 554.8 L885.2 560.8 L884.8 566.8 L884.2 572.8 L883.6 578.8 L882.8 584.8 L882.0 590.7 L881.0 596.7 L880.0 602.6 L878.9 608.5 L877.7 614.4 L876.4 620.2 L875.1 626.1 L873.6 631.9 L872.1 637.7 L870.6 643.5 L868.9 649.3 L867.2 655.1 L865.4 660.8 L863.5 666.5 L861.6 672.3 L859.6 677.9 L857.5 683.6 L855.4 689.2 L853.1 694.9 L850.8 700.4 L848.4 706.0 L837.6 700.5 L839.9 695.1 L842.1 689.7 L844.2 684.2 L846.3 678.8 L848.3 673.3 L850.2 667.8 L852.0 662.3 L853.7 656.7 L855.4 651.2 L857.1 645.6 L858.6 640.0 L860.1 634.4 L861.5 628.8 L862.9 623.2 L864.1 617.5 L865.3 611.9 L866.5 606.2 L867.5 600.5 L868.5 594.8 L869.3 589.1 L870.1 583.3 L870.8 577.6 L871.4 571.8 L871.9 566.0 L872.3 560.2 L872.6 554.4 L872.7 548.6 L872.8 542.8 L872.8 537.0 L872.6 531.2 L872.3 525.4 L871.9 519.6 L871.4 513.9 L870.8 508.1 L870.1 502.3 L869.2 496.6 L868.3 490.9 L867.2 485.2 L866.1 479.5 L864.8 473.8Z" fill="#000" fill-opacity="0.045"/>
<path d="M848.4 706.0 L845.9 711.6 L843.3 717.1 L840.6 722.6 L837.9 728.0 L835.0 733.5 L832.0 738.8 L829.0 744.2 L825.8 749.4 L822.6 754.7 L819.3 759.9 L815.9 765.0 L812.4 770.1 L808.8 775.1 L805.1 780.1 L801.4 785.1 L797.5 789.9 L793.6 794.8 L789.6 799.5 L785.5 804.2 L781.3 808.9 L777.1 813.4 L772.2 817.3 L767.2 821.1 L762.2 824.8 L757.1 828.4 L752.0 832.0 L746.8 835.4 L741.6 838.7 L736.3 842.0 L730.9 845.1 L725.5 848.1 L720.1 851.0 L714.6 853.8 L709.4 857.2 L704.2 860.5 L698.9 863.8 L693.6 867.0 L688.2 870.1 L682.7 873.0 L677.1 875.8 L671.5 878.6 L665.9 881.2 L660.2 883.7 L654.4 886.0 L648.6 888.3 L642.7 890.4 L636.8 892.4 L630.8 894.3 L624.8 896.1 L618.8 897.8 L612.7 899.3 L606.6 900.8 L600.5 902.1 L594.4 903.3 L588.2 904.4 L582.0 905.4 L575.8 906.3 L569.5 907.0 L563.3 907.7 L557.0 908.2 L557.0 908.2 L563.3 907.7 L569.5 907.0 L575.8 906.3 L582.0 905.4 L588.2 904.4 L594.4 903.3 L600.5 902.1 L606.6 900.8 L612.7 899.3 L618.8 897.8 L624.8 896.1 L630.8 894.3 L636.8 892.4 L642.7 890.4 L648.6 888.3 L654.4 886.0 L660.2 883.7 L665.9 881.2 L671.5 878.6 L677.1 875.8 L682.7 873.0 L688.2 870.1 L693.6 867.0 L698.9 863.8 L704.2 860.5 L709.4 857.2 L714.5 853.7 L719.5 850.1 L724.5 846.4 L729.3 842.7 L734.1 838.8 L738.9 834.9 L743.5 830.9 L748.1 826.8 L752.6 822.6 L757.0 818.4 L761.3 814.1 L765.5 809.7 L769.7 805.3 L773.8 800.8 L777.8 796.2 L781.7 791.6 L785.5 787.0 L789.3 782.2 L793.0 777.5 L796.5 772.7 L800.0 767.8 L803.5 762.9 L806.8 757.9 L810.0 752.9 L813.2 747.8 L816.3 742.7 L819.2 737.6 L822.1 732.4 L824.9 727.1 L827.6 721.9 L830.3 716.6 L832.8 711.2 L835.3 705.9 L837.6 700.5Z" fill="#000" fill-opacity="0.065"/>
<path d="M557.0 908.2 L550.7 908.6 L544.4 908.9 L538.1 909.1 L531.8 909.1 L525.4 909.0 L519.1 908.8 L512.8 908.5 L506.5 908.0 L500.2 907.4 L493.9 906.6 L487.6 906.2 L481.2 906.1 L474.8 905.8 L468.4 905.4 L462.0 904.9 L455.6 904.2 L449.2 903.4 L442.9 902.4 L436.5 901.3 L430.1 900.2 L423.8 898.8 L417.5 897.4 L411.3 895.5 L405.3 893.2 L399.3 890.7 L393.4 888.1 L387.5 885.5 L381.7 882.8 L375.8 880.0 L370.1 877.1 L364.3 874.2 L358.6 871.2 L352.9 868.2 L347.3 865.0 L341.7 861.8 L336.1 858.6 L330.6 855.2 L325.1 851.8 L319.7 848.3 L314.3 844.7 L308.9 841.1 L303.7 837.3 L298.4 833.4 L293.3 829.5 L288.2 825.5 L283.2 821.3 L278.3 817.0 L273.4 812.7 L268.7 808.2 L264.1 803.6 L259.5 799.0 L255.1 794.2 L250.8 789.3 L246.7 784.2 L242.8 779.0 L239.1 773.7 L235.4 768.3 L231.9 762.8 L228.5 757.3 L225.3 751.7 L222.1 746.0 L219.1 740.3 L216.2 734.5 L213.3 728.7 L210.6 722.8 L208.0 716.9 L205.5 711.0 L203.1 705.0 L200.8 699.0 L198.5 693.0 L196.4 687.0 L194.3 681.0 L192.3 674.9 L190.4 668.8 L188.6 662.7 L186.9 656.6 L185.3 650.4 L183.8 644.3 L182.3 638.1 L181.0 631.9 L179.8 625.7 L178.6 619.4 L190.6 616.9 L191.7 622.9 L193.0 628.9 L194.4 634.9 L195.9 640.8 L197.4 646.8 L199.1 652.7 L200.8 658.6 L202.7 664.4 L204.6 670.3 L206.6 676.1 L208.6 681.9 L210.8 687.7 L213.0 693.4 L215.3 699.1 L217.7 704.8 L220.2 710.5 L222.8 716.1 L225.5 721.7 L228.2 727.3 L231.1 732.8 L234.1 738.3 L237.2 743.7 L240.4 749.0 L243.7 754.3 L247.2 759.5 L250.7 764.7 L254.4 769.7 L258.2 774.7 L262.1 779.5 L266.2 784.3 L270.3 789.0 L274.6 793.6 L278.9 798.1 L283.4 802.5 L288.0 806.8 L292.6 810.9 L297.4 815.0 L302.2 819.0 L307.1 822.9 L312.0 826.7 L317.1 830.4 L322.1 834.1 L327.3 837.6 L332.4 841.1 L337.7 844.5 L342.9 847.8 L348.3 851.1 L353.6 854.3 L359.0 857.4 L364.4 860.5 L369.9 863.5 L375.4 866.4 L380.9 869.3 L386.5 872.1 L392.1 874.9 L397.8 877.6 L403.5 880.2 L409.2 882.7 L415.0 885.1 L420.8 887.5 L426.7 889.7 L432.6 891.8 L438.6 893.9 L444.6 895.8 L450.6 897.6 L456.7 899.3 L462.8 900.8 L469.0 902.3 L475.2 903.6 L481.4 904.7 L487.6 905.7 L493.9 906.6 L500.2 907.4 L506.5 908.0 L512.8 908.5 L519.1 908.8 L525.4 909.0 L531.8 909.1 L538.1 909.1 L544.4 908.9 L550.7 908.6 L557.0 908.2Z" fill="#000" fill-opacity="0.085"/>
<path d="M178.6 619.4 L177.6 613.2 L176.8 607.0 L176.0 600.8 L175.4 594.6 L174.9 588.3 L174.5 582.1 L174.2 575.8 L173.8 569.6 L173.5 563.4 L173.4 557.1 L173.4 550.9 L173.5 544.6 L173.7 538.4 L174.1 532.2 L174.5 526.0 L175.1 519.8 L175.7 513.6 L176.5 507.4 L177.4 501.3 L178.3 495.1 L179.3 489.0 L180.4 482.9 L181.6 476.8 L182.9 470.7 L184.2 464.7 L185.6 458.6 L187.1 452.6 L188.5 446.6 L190.0 440.5 L191.6 434.5 L193.2 428.5 L195.0 422.5 L196.8 416.6 L198.7 410.6 L200.8 404.7 L202.9 398.8 L205.1 392.9 L207.4 387.1 L209.9 381.3 L212.5 375.6 L215.2 369.9 L218.0 364.3 L234.8 373.9 L231.9 379.1 L229.1 384.3 L226.4 389.6 L223.9 395.0 L221.4 400.4 L219.0 405.9 L216.7 411.4 L214.6 416.9 L212.5 422.5 L210.5 428.1 L208.5 433.7 L206.7 439.4 L204.9 445.0 L203.2 450.7 L201.5 456.5 L200.0 462.2 L198.5 467.9 L197.0 473.7 L195.6 479.5 L194.3 485.3 L193.1 491.2 L191.9 497.0 L190.9 502.9 L189.9 508.8 L188.9 514.8 L188.1 520.7 L187.4 526.7 L186.8 532.6 L186.3 538.6 L185.9 544.7 L185.6 550.7 L185.4 556.7 L185.4 562.8 L185.5 568.8 L185.7 574.8 L186.0 580.9 L186.5 586.9 L187.0 592.9 L187.7 599.0 L188.6 605.0 L189.5 611.0 L190.6 616.9Z" fill="#000" fill-opacity="0.058"/>
<path d="M218.0 364.3 L220.9 358.7 L224.0 353.1 L227.2 347.7 L230.5 342.3 L234.0 337.0 L237.7 331.8 L241.5 326.8 L245.5 321.9 L249.6 317.1 L253.8 312.4 L258.1 307.7 L262.4 303.1 L266.8 298.6 L271.3 294.2 L275.9 289.8 L280.5 285.6 L285.1 281.3 L289.9 277.2 L294.6 273.1 L299.4 269.0 L304.3 265.0 L309.2 261.1 L314.1 257.2 L319.0 253.4 L324.1 249.6 L329.1 245.9 L334.2 242.2 L339.4 238.6 L344.6 235.1 L349.9 231.7 L355.2 228.3 L360.6 225.0 L366.0 221.7 L371.5 218.6 L377.0 215.5 L382.6 212.6 L388.3 209.7 L394.0 207.0 L399.8 204.4 L405.6 201.8 L411.6 199.7 L417.7 197.9 L423.8 196.4 L430.0 194.9 L436.2 193.7 L442.5 192.5 L448.7 191.5 L455.0 190.7 L461.2 189.9 L467.5 189.4 L473.8 188.9 L480.1 188.6 L486.3 188.4 L492.6 188.4 L498.9 188.5 L505.1 188.5 L511.3 188.3 L517.5 188.1 L523.5 182.7 L524.0 200.0 L518.0 200.1 L512.1 200.2 L506.1 200.5 L500.1 200.9 L494.1 201.4 L488.2 202.0 L482.2 202.7 L476.3 203.6 L470.4 204.5 L464.5 205.6 L458.6 206.9 L452.8 208.2 L447.0 209.7 L441.2 211.4 L435.5 213.2 L429.8 215.1 L424.2 217.1 L418.6 219.2 L413.0 221.5 L407.5 223.9 L402.1 226.4 L396.8 229.1 L391.4 231.8 L386.2 234.6 L381.0 237.5 L375.9 240.6 L370.8 243.6 L365.7 246.8 L360.8 250.0 L355.8 253.3 L350.9 256.7 L346.1 260.1 L341.3 263.6 L336.5 267.1 L331.8 270.6 L327.1 274.2 L322.5 277.9 L317.9 281.5 L313.3 285.3 L308.7 289.1 L304.2 292.9 L299.8 296.8 L295.4 300.7 L291.0 304.7 L286.7 308.8 L282.4 313.0 L278.2 317.2 L274.1 321.5 L270.1 325.8 L266.1 330.3 L262.2 334.8 L258.4 339.4 L254.7 344.1 L251.1 348.9 L247.7 353.7 L244.3 358.6 L241.0 363.6 L237.9 368.7 L234.8 373.9Z" fill="#000" fill-opacity="0.075"/>
<path d="M535.0 360.7 L538.2 360.7 L541.4 360.8 L544.6 361.0 L547.8 361.3 L551.0 361.6 L554.2 362.0 L557.3 362.5 L560.5 363.0 L563.6 363.6 L566.8 364.3 L569.9 365.1 L573.0 365.9 L576.0 366.7 L579.1 367.7 L582.1 368.7 L585.1 369.7 L588.1 370.8 L591.0 372.0 L594.0 373.2 L596.9 374.5 L599.7 375.8 L602.6 377.2 L605.4 378.6 L608.2 380.1 L611.0 381.6 L613.7 383.1 L616.4 384.7 L619.1 386.4 L621.7 388.0 L624.3 389.7 L626.9 391.5 L629.5 393.3 L632.0 395.1 L634.5 396.9 L637.0 398.8 L639.5 400.7 L641.9 402.6 L644.3 404.6 L646.6 406.6 L649.0 408.6 L651.3 410.7 L653.6 412.8 L655.8 414.9 L658.0 417.0 L660.2 419.2 L662.4 421.4 L664.5 423.7 L666.6 425.9 L668.7 428.2 L670.7 430.5 L672.7 432.9 L674.7 435.3 L676.6 437.7 L678.5 440.1 L680.4 442.6 L682.2 445.1 L684.0 447.7 L685.7 450.2 L687.4 452.8 L689.1 455.4 L690.7 458.1 L692.2 460.8 L693.7 463.5 L695.2 466.3 L696.6 469.0 L697.9 471.8 L699.2 474.7 L700.4 477.5 L701.6 480.4 L702.7 483.3 L703.8 486.2 L704.8 489.2 L705.7 492.1 L706.6 495.1 L707.4 498.1 L708.1 501.2 L708.8 504.2 L709.4 507.2 L710.0 510.3 L710.5 513.4 L710.9 516.4 L711.2 519.5 L711.5 522.6 L711.7 525.7 L711.9 528.8 L712.0 531.9 L712.0 535.0 L712.0 538.1 L711.9 541.2 L711.8 544.2 L711.6 547.3 L711.3 550.4 L711.0 553.4 L710.7 556.5 L710.3 559.5 L709.8 562.6 L709.3 565.6 L708.8 568.6 L708.2 571.6 L707.5 574.6 L706.9 577.5 L706.1 580.5 L705.4 583.4 L704.6 586.4 L703.8 589.3 L702.9 592.2 L702.0 595.1 L701.1 598.0 L700.1 600.9 L699.1 603.7 L698.1 606.6 L697.0 609.4 L695.9 612.3 L694.8 615.1 L693.6 617.9 L692.4 620.7 L691.2 623.5 L690.0 626.3 L688.7 629.0 L687.4 631.8 L686.0 634.5 L684.6 637.3 L683.2 640.0 L681.7 642.7 L680.3 645.4 L678.7 648.1 L677.1 650.7 L675.5 653.4 L673.9 656.0 L672.2 658.6 L670.4 661.2 L668.6 663.8 L666.8 666.3 L664.9 668.8 L663.0 671.3 L661.0 673.7 L658.9 676.2 L656.9 678.5 L654.7 680.9 L652.6 683.2 L650.3 685.4 L648.0 687.7 L645.7 689.8 L643.3 691.9 L640.9 694.0 L638.4 696.0 L635.9 698.0 L633.3 699.9 L630.7 701.7 L628.1 703.5 L625.4 705.3 L622.6 706.9 L619.8 708.5 L617.0 710.1 L614.2 711.5 L611.3 712.9 L608.4 714.3 L605.4 715.5 L602.4 716.7 L599.4 717.9 L596.4 718.9 L593.4 719.9 L590.3 720.8 L587.2 721.7 L584.1 722.5 L581.0 723.2 L577.8 723.9 L574.7 724.5 L571.5 725.0 L568.4 725.5 L565.2 725.9 L562.0 726.2 L558.8 726.5 L555.6 726.7 L552.5 726.9 L549.3 727.0 L546.1 727.1 L542.9 727.1 L539.8 727.1 L536.6 727.0 L533.4 726.8 L530.3 726.6 L527.1 726.4 L524.0 726.1 L520.8 725.8 L517.7 725.4 L514.6 725.0 L511.4 724.5 L508.3 724.0 L505.2 723.4 L502.1 722.8 L499.1 722.2 L496.0 721.5 L492.9 720.7 L489.9 719.9 L486.9 719.1 L483.8 718.2 L480.8 717.3 L477.8 716.3 L474.9 715.3 L471.9 714.3 L469.0 713.2 L466.0 712.0 L463.1 710.8 L460.3 709.5 L457.4 708.2 L454.6 706.9 L451.7 705.5 L448.9 704.0 L446.2 702.5 L443.5 700.9 L440.7 699.3 L438.1 697.7 L435.4 696.0 L432.8 694.2 L430.2 692.4 L427.7 690.5 L425.2 688.6 L422.7 686.7 L420.3 684.7 L417.9 682.6 L415.6 680.5 L413.3 678.4 L411.0 676.2 L408.8 674.0 L406.6 671.7 L404.5 669.4 L402.4 667.0 L400.4 664.6 L398.4 662.2 L396.5 659.8 L394.6 657.3 L392.7 654.7 L390.9 652.2 L389.2 649.6 L387.5 647.0 L385.8 644.3 L384.2 641.7 L382.6 639.0 L381.1 636.2 L379.6 633.5 L378.2 630.7 L376.8 627.9 L375.5 625.1 L374.2 622.3 L372.9 619.5 L371.7 616.6 L370.5 613.7 L369.4 610.9 L368.3 608.0 L367.3 605.0 L366.3 602.1 L365.3 599.1 L364.4 596.2 L363.6 593.2 L362.7 590.2 L361.9 587.2 L361.2 584.2 L360.5 581.2 L359.9 578.2 L359.3 575.1 L358.7 572.1 L358.2 569.0 L357.7 565.9 L357.3 562.8 L357.0 559.8 L356.6 556.7 L356.4 553.6 L356.2 550.4 L356.0 547.3 L355.9 544.2 L355.9 541.1 L355.9 538.0 L356.0 534.9 L356.1 531.7 L356.3 528.6 L356.5 525.5 L356.8 522.4 L357.2 519.3 L357.6 516.2 L358.1 513.1 L358.6 510.0 L359.3 507.0 L359.9 503.9 L360.7 500.9 L361.5 497.8 L362.3 494.8 L363.2 491.8 L364.2 488.8 L365.2 485.9 L366.3 483.0 L367.5 480.0 L368.7 477.2 L369.9 474.3 L371.3 471.5 L372.6 468.7 L374.0 465.9 L375.5 463.1 L377.0 460.4 L378.6 457.7 L380.2 455.0 L381.9 452.4 L383.6 449.8 L385.4 447.2 L387.1 444.7 L389.0 442.2 L390.9 439.7 L392.8 437.2 L394.7 434.8 L396.7 432.4 L398.7 430.1 L400.8 427.8 L402.9 425.5 L405.0 423.2 L407.1 421.0 L409.3 418.7 L411.5 416.6 L413.7 414.4 L416.0 412.3 L418.3 410.2 L420.6 408.2 L423.0 406.1 L425.4 404.1 L427.8 402.2 L430.2 400.2 L432.7 398.3 L435.2 396.5 L437.7 394.6 L440.2 392.8 L442.8 391.1 L445.4 389.3 L448.0 387.6 L450.7 386.0 L453.4 384.3 L456.1 382.8 L458.9 381.2 L461.6 379.7 L464.4 378.3 L467.3 376.9 L470.1 375.5 L473.0 374.2 L475.9 372.9 L478.9 371.7 L481.8 370.6 L484.8 369.5 L487.8 368.4 L490.9 367.5 L493.9 366.5 L497.0 365.7 L500.1 364.9 L503.2 364.2 L506.3 363.5 L509.5 362.9 L512.6 362.4 L515.8 361.9 L519.0 361.5 L522.2 361.2 L525.4 361.0 L528.6 360.8 L531.8 360.7 L535.0 360.7 L535.0 372.2 L532.0 372.2 L529.0 372.3 L526.0 372.4 L523.0 372.7 L520.0 373.0 L517.0 373.3 L514.0 373.8 L511.1 374.3 L508.1 374.9 L505.2 375.5 L502.3 376.2 L499.4 376.9 L496.5 377.7 L493.6 378.6 L490.8 379.5 L488.0 380.5 L485.2 381.6 L482.4 382.7 L479.7 383.8 L476.9 385.0 L474.2 386.2 L471.6 387.5 L468.9 388.9 L466.3 390.2 L463.7 391.6 L461.1 393.1 L458.6 394.6 L456.1 396.1 L453.6 397.7 L451.2 399.3 L448.7 400.9 L446.3 402.6 L443.9 404.3 L441.6 406.0 L439.3 407.8 L437.0 409.6 L434.7 411.4 L432.4 413.2 L430.2 415.1 L428.0 417.0 L425.8 418.9 L423.7 420.9 L421.6 422.8 L419.5 424.9 L417.4 426.9 L415.4 429.0 L413.4 431.1 L411.4 433.2 L409.4 435.3 L407.5 437.5 L405.6 439.7 L403.8 441.9 L401.9 444.2 L400.1 446.5 L398.4 448.8 L396.7 451.1 L395.0 453.5 L393.3 455.9 L391.7 458.4 L390.2 460.8 L388.7 463.3 L387.2 465.8 L385.7 468.4 L384.4 471.0 L383.0 473.6 L381.7 476.2 L380.5 478.8 L379.3 481.5 L378.2 484.2 L377.1 486.9 L376.1 489.7 L375.1 492.4 L374.2 495.2 L373.4 498.0 L372.6 500.8 L371.8 503.7 L371.1 506.5 L370.5 509.4 L369.9 512.3 L369.4 515.1 L369.0 518.0 L368.6 520.9 L368.2 523.8 L368.0 526.8 L367.7 529.7 L367.6 532.6 L367.4 535.5 L367.4 538.4 L367.4 541.4 L367.4 544.3 L367.5 547.2 L367.7 550.1 L367.9 553.0 L368.1 555.9 L368.4 558.8 L368.8 561.7 L369.2 564.6 L369.6 567.4 L370.1 570.3 L370.6 573.2 L371.2 576.0 L371.8 578.9 L372.4 581.7 L373.1 584.5 L373.9 587.3 L374.6 590.1 L375.4 592.9 L376.3 595.7 L377.2 598.4 L378.1 601.2 L379.1 603.9 L380.1 606.6 L381.2 609.3 L382.2 612.0 L383.4 614.7 L384.5 617.3 L385.8 620.0 L387.0 622.6 L388.3 625.2 L389.6 627.8 L391.0 630.4 L392.4 632.9 L393.9 635.4 L395.4 637.9 L396.9 640.4 L398.5 642.9 L400.2 645.3 L401.9 647.7 L403.6 650.1 L405.3 652.4 L407.2 654.7 L409.0 657.0 L410.9 659.2 L412.8 661.4 L414.8 663.6 L416.9 665.7 L418.9 667.8 L421.0 669.9 L423.2 671.9 L425.4 673.9 L427.6 675.8 L429.9 677.7 L432.2 679.5 L434.5 681.3 L436.9 683.0 L439.3 684.7 L441.8 686.4 L444.2 688.0 L446.7 689.5 L449.3 691.0 L451.8 692.5 L454.4 693.9 L457.0 695.3 L459.7 696.6 L462.3 697.8 L465.0 699.1 L467.7 700.2 L470.4 701.4 L473.2 702.5 L475.9 703.5 L478.7 704.5 L481.5 705.4 L484.3 706.3 L487.1 707.2 L489.9 708.0 L492.8 708.8 L495.6 709.5 L498.5 710.2 L501.3 710.9 L504.2 711.5 L507.1 712.1 L510.0 712.6 L512.9 713.1 L515.9 713.5 L518.8 714.0 L521.7 714.3 L524.7 714.6 L527.6 714.9 L530.6 715.1 L533.5 715.3 L536.5 715.5 L539.5 715.6 L542.4 715.6 L545.4 715.6 L548.4 715.6 L551.4 715.5 L554.4 715.3 L557.3 715.1 L560.3 714.9 L563.3 714.5 L566.3 714.2 L569.2 713.7 L572.2 713.2 L575.1 712.7 L578.1 712.1 L581.0 711.4 L583.9 710.7 L586.8 709.9 L589.7 709.0 L592.6 708.1 L595.4 707.1 L598.2 706.0 L601.0 704.9 L603.8 703.7 L606.5 702.5 L609.2 701.1 L611.9 699.8 L614.6 698.3 L617.2 696.8 L619.7 695.2 L622.2 693.6 L624.7 691.9 L627.2 690.2 L629.6 688.4 L631.9 686.5 L634.2 684.6 L636.5 682.7 L638.7 680.7 L640.9 678.6 L643.0 676.6 L645.1 674.4 L647.1 672.3 L649.1 670.0 L651.0 667.8 L652.9 665.5 L654.8 663.2 L656.6 660.9 L658.3 658.5 L660.0 656.1 L661.7 653.7 L663.3 651.3 L664.9 648.8 L666.4 646.4 L667.9 643.9 L669.4 641.4 L670.8 638.9 L672.2 636.3 L673.5 633.8 L674.8 631.2 L676.1 628.7 L677.4 626.1 L678.6 623.5 L679.8 620.9 L680.9 618.3 L682.1 615.7 L683.2 613.1 L684.3 610.5 L685.3 607.8 L686.3 605.2 L687.3 602.5 L688.3 599.9 L689.2 597.2 L690.1 594.5 L691.0 591.8 L691.8 589.1 L692.6 586.4 L693.4 583.7 L694.2 580.9 L694.9 578.2 L695.6 575.4 L696.2 572.6 L696.8 569.8 L697.4 567.0 L697.9 564.2 L698.4 561.4 L698.8 558.6 L699.2 555.7 L699.6 552.9 L699.9 550.0 L700.1 547.2 L700.3 544.3 L700.4 541.4 L700.5 538.5 L700.6 535.6 L700.5 532.7 L700.4 529.8 L700.3 526.9 L700.1 524.1 L699.8 521.2 L699.5 518.3 L699.1 515.4 L698.7 512.5 L698.2 509.7 L697.6 506.8 L697.0 504.0 L696.3 501.2 L695.5 498.3 L694.7 495.5 L693.9 492.8 L692.9 490.0 L691.9 487.3 L690.9 484.6 L689.8 481.9 L688.6 479.2 L687.4 476.5 L686.2 473.9 L684.9 471.3 L683.5 468.8 L682.1 466.2 L680.6 463.7 L679.1 461.2 L677.6 458.8 L676.0 456.3 L674.4 453.9 L672.7 451.6 L671.0 449.2 L669.3 446.9 L667.5 444.6 L665.7 442.4 L663.8 440.2 L662.0 438.0 L660.0 435.8 L658.1 433.6 L656.1 431.5 L654.1 429.4 L652.1 427.4 L650.1 425.3 L648.0 423.3 L645.9 421.3 L643.8 419.4 L641.6 417.5 L639.4 415.6 L637.2 413.7 L635.0 411.8 L632.7 410.0 L630.4 408.2 L628.1 406.5 L625.8 404.7 L623.4 403.0 L621.0 401.3 L618.6 399.7 L616.2 398.1 L613.7 396.5 L611.2 395.0 L608.7 393.5 L606.1 392.0 L603.5 390.6 L600.9 389.2 L598.3 387.9 L595.6 386.6 L592.9 385.3 L590.2 384.1 L587.5 382.9 L584.7 381.8 L581.9 380.8 L579.1 379.8 L576.3 378.8 L573.5 378.0 L570.6 377.1 L567.7 376.4 L564.8 375.6 L561.8 375.0 L558.9 374.4 L555.9 373.9 L553.0 373.5 L550.0 373.1 L547.0 372.7 L544.0 372.5 L541.0 372.3 L538.0 372.2 L535.0 372.2Z" fill="#000" fill-opacity="0.055"/>
<g stroke="#171414" stroke-width="3.00" stroke-linecap="round" fill="none">
<line x1="510.1" y1="15.8" x2="524.0" y2="200.0"/>
<line x1="560.0" y1="17.1" x2="554.0" y2="201.4"/>
<line x1="611.8" y1="24.0" x2="584.1" y2="205.3"/>
<line x1="653.5" y1="33.3" x2="616.5" y2="212.6"/>
<line x1="696.6" y1="46.5" x2="642.9" y2="221.2"/>
<line x1="740.9" y1="64.3" x2="670.9" y2="232.9"/>
<line x1="784.7" y1="86.5" x2="699.1" y2="247.6"/>
<line x1="820.0" y1="108.0" x2="724.9" y2="263.6"/>
<line x1="855.6" y1="133.3" x2="747.0" y2="279.7"/>
<line x1="889.9" y1="162.1" x2="768.0" y2="297.6"/>
<line x1="925.6" y1="198.4" x2="789.8" y2="320.1"/>
<line x1="953.0" y1="232.2" x2="806.4" y2="341.0"/>
<line x1="974.2" y1="262.9" x2="822.9" y2="366.7"/>
<line x1="997.1" y1="300.9" x2="836.1" y2="391.9"/>
<line x1="1019.9" y1="344.6" x2="847.8" y2="419.0"/>
<line x1="1041.5" y1="394.5" x2="857.6" y2="447.1"/>
<line x1="1056.2" y1="439.9" x2="864.8" y2="473.8"/>
<line x1="1065.5" y1="483.2" x2="870.2" y2="503.1"/>
<line x1="1070.2" y1="526.7" x2="872.6" y2="531.7"/>
<line x1="1070.6" y1="571.7" x2="872.3" y2="560.0"/>
<line x1="1067.1" y1="615.1" x2="869.2" y2="589.7"/>
<line x1="1059.9" y1="656.7" x2="864.3" y2="616.6"/>
<line x1="1046.9" y1="702.9" x2="857.6" y2="643.6"/>
<line x1="1028.5" y1="746.8" x2="848.5" y2="672.5"/>
<line x1="1005.9" y1="787.2" x2="837.6" y2="700.5"/>
<line x1="978.7" y1="827.0" x2="824.2" y2="728.4"/>
<line x1="954.8" y1="858.1" x2="810.4" y2="752.3"/>
<line x1="927.5" y1="891.0" x2="794.1" y2="775.9"/>
<line x1="898.3" y1="923.3" x2="773.9" y2="800.6"/>
<line x1="863.4" y1="956.8" x2="752.1" y2="823.1"/>
<line x1="828.8" y1="984.1" x2="729.0" y2="843.0"/>
<line x1="796.4" y1="1004.8" x2="703.6" y2="860.9"/>
<line x1="746.3" y1="1029.1" x2="675.8" y2="876.5"/>
<line x1="699.9" y1="1044.6" x2="647.1" y2="888.8"/>
<line x1="657.5" y1="1053.7" x2="618.5" y2="897.8"/>
<line x1="611.4" y1="1058.7" x2="590.1" y2="904.1"/>
<line x1="562.5" y1="1059.3" x2="557.0" y2="908.2"/>
<line x1="517.5" y1="1056.3" x2="521.3" y2="908.9"/>
<line x1="476.3" y1="1051.1" x2="493.8" y2="906.6"/>
<line x1="423.8" y1="1041.2" x2="460.0" y2="900.1"/>
<line x1="382.5" y1="1030.0" x2="430.1" y2="891.0"/>
<line x1="338.4" y1="1013.7" x2="396.0" y2="876.8"/>
<line x1="301.9" y1="996.2" x2="367.1" y2="862.0"/>
<line x1="265.0" y1="975.0" x2="343.7" y2="848.3"/>
<line x1="230.1" y1="951.5" x2="318.1" y2="831.2"/>
<line x1="197.2" y1="926.2" x2="294.3" y2="812.4"/>
<line x1="159.6" y1="892.1" x2="270.1" y2="788.8"/>
<line x1="127.5" y1="855.6" x2="250.6" y2="764.5"/>
<line x1="100.7" y1="816.2" x2="232.2" y2="734.7"/>
<line x1="78.4" y1="773.3" x2="217.6" y2="704.5"/>
<line x1="61.9" y1="733.2" x2="205.8" y2="674.0"/>
<line x1="45.8" y1="685.3" x2="196.9" y2="644.9"/>
<line x1="34.4" y1="645.1" x2="190.6" y2="616.9"/>
<line x1="25.4" y1="607.3" x2="186.7" y2="589.3"/>
<line x1="16.3" y1="557.3" x2="185.5" y2="552.7"/>
<line x1="11.8" y1="511.8" x2="187.7" y2="524.1"/>
<line x1="12.2" y1="459.1" x2="193.7" y2="488.5"/>
<line x1="19.1" y1="411.3" x2="201.4" y2="457.1"/>
<line x1="30.8" y1="369.3" x2="210.3" y2="428.4"/>
<line x1="49.0" y1="325.5" x2="222.6" y2="397.8"/>
<line x1="70.3" y1="285.9" x2="234.8" y2="373.9"/>
<line x1="92.3" y1="251.4" x2="248.6" y2="352.4"/>
<line x1="119.0" y1="215.0" x2="268.5" y2="327.6"/>
<line x1="155.4" y1="173.4" x2="290.8" y2="305.0"/>
<line x1="186.5" y1="144.5" x2="314.3" y2="284.4"/>
<line x1="222.5" y1="117.3" x2="338.3" y2="265.8"/>
<line x1="256.4" y1="96.2" x2="358.8" y2="251.3"/>
<line x1="295.3" y1="75.7" x2="383.9" y2="235.9"/>
<line x1="338.7" y1="56.1" x2="409.6" y2="223.0"/>
<line x1="376.7" y1="41.6" x2="437.5" y2="212.5"/>
<line x1="419.7" y1="28.6" x2="461.2" y2="206.3"/>
<line x1="462.9" y1="19.9" x2="492.6" y2="201.5"/>
<line x1="525.0" y1="200.0" x2="538.5" y2="372.2"/>
<line x1="583.5" y1="205.2" x2="563.2" y2="375.3"/>
<line x1="648.3" y1="223.3" x2="591.3" y2="384.6"/>
<line x1="702.8" y1="249.8" x2="620.4" y2="400.9"/>
<line x1="746.1" y1="279.0" x2="642.9" y2="418.6"/>
<line x1="791.7" y1="322.2" x2="662.0" y2="438.0"/>
<line x1="824.1" y1="368.7" x2="678.3" y2="460.0"/>
<line x1="846.6" y1="416.0" x2="689.8" y2="481.8"/>
<line x1="864.3" y1="471.5" x2="697.5" y2="506.5"/>
<line x1="872.5" y1="530.0" x2="700.5" y2="538.3"/>
<line x1="869.9" y1="585.0" x2="696.8" y2="570.0"/>
<line x1="856.2" y1="648.7" x2="688.8" y2="598.5"/>
<line x1="836.5" y1="703.2" x2="676.4" y2="628.1"/>
<line x1="809.3" y1="754.1" x2="668.3" y2="643.3"/>
<line x1="775.5" y1="798.8" x2="651.1" y2="667.7"/>
<line x1="728.4" y1="843.4" x2="629.9" y2="688.1"/>
<line x1="668.4" y1="880.0" x2="600.1" y2="705.3"/>
<line x1="600.1" y1="902.2" x2="570.1" y2="713.6"/>
<line x1="540.0" y1="909.0" x2="543.3" y2="715.6"/>
<line x1="493.8" y1="906.6" x2="515.2" y2="713.4"/>
<line x1="430.0" y1="890.9" x2="488.5" y2="707.6"/>
<line x1="370.2" y1="863.6" x2="460.0" y2="696.7"/>
<line x1="319.6" y1="832.3" x2="432.3" y2="679.6"/>
<line x1="269.8" y1="788.5" x2="407.8" y2="655.5"/>
<line x1="228.9" y1="728.7" x2="392.2" y2="632.5"/>
<line x1="204.5" y1="670.2" x2="379.5" y2="605.1"/>
<line x1="187.9" y1="600.1" x2="370.4" y2="572.2"/>
<line x1="185.7" y1="547.0" x2="367.4" y2="543.0"/>
<line x1="194.9" y1="483.0" x2="370.6" y2="509.0"/>
<line x1="212.5" y1="422.4" x2="379.9" y2="480.1"/>
<line x1="238.9" y1="367.0" x2="393.0" y2="456.5"/>
<line x1="271.2" y1="324.6" x2="406.8" y2="438.4"/>
<line x1="313.1" y1="285.5" x2="430.1" y2="415.2"/>
<line x1="358.5" y1="251.5" x2="457.0" y2="395.6"/>
<line x1="410.2" y1="222.7" x2="478.1" y2="384.5"/>
<line x1="469.9" y1="204.6" x2="505.1" y2="375.5"/>
<line x1="540.1" y1="372.3" x2="538.3" y2="428.9"/>
<line x1="696.9" y1="503.7" x2="649.1" y2="518.5"/>
<line x1="675.9" y1="629.1" x2="633.2" y2="601.6"/>
<line x1="543.3" y1="715.6" x2="543.3" y2="657.8"/>
<line x1="370.6" y1="573.0" x2="418.9" y2="563.5"/>
<line x1="393.2" y1="456.1" x2="432.4" y2="478.7"/>
<path d="M535.0 15.8 L539.6 15.9 L544.2 16.1 L548.8 16.3 L553.4 16.6 L558.0 17.0 L562.6 17.3 L567.2 17.8 L571.8 18.2 L576.4 18.7 L580.9 19.3 L585.5 19.9 L590.1 20.5 L594.6 21.2 L599.1 21.9 L603.7 22.6 L608.2 23.4 L612.7 24.2 L617.2 25.1 L621.7 25.9 L626.2 26.9 L630.7 27.8 L635.2 28.8 L639.7 29.9 L644.1 30.9 L648.6 32.0 L653.0 33.2 L657.4 34.4 L661.8 35.6 L666.2 36.8 L670.6 38.1 L675.0 39.4 L679.4 40.8 L683.7 42.2 L688.1 43.6 L692.4 45.1 L696.7 46.6 L701.0 48.1 L705.3 49.7 L709.6 51.3 L713.8 52.9 L718.1 54.6 L722.3 56.3 L726.5 58.0 L730.7 59.8 L734.9 61.6 L739.1 63.5 L743.2 65.4 L747.4 67.3 L751.5 69.2 L755.6 71.2 L759.7 73.2 L763.7 75.3 L767.8 77.4 L771.8 79.5 L775.8 81.6 L779.8 83.8 L783.8 86.0 L787.8 88.2 L791.7 90.5 L795.6 92.8 L799.5 95.1 L803.4 97.5 L807.3 99.9 L811.2 102.3 L815.0 104.7 L818.8 107.2 L822.6 109.7 L826.4 112.2 L830.1 114.8 L833.9 117.4 L837.6 120.0 L841.3 122.6 L845.0 125.3 L848.6 128.0 L852.3 130.8 L855.9 133.5 L859.5 136.3 L863.0 139.1 L866.6 142.0 L870.1 144.9 L873.6 147.8 L877.1 150.7 L880.5 153.7 L883.9 156.7 L887.3 159.7 L890.7 162.8 L894.0 165.9 L897.3 169.0 L900.6 172.2 L903.8 175.3 L907.1 178.6 L910.3 181.8 L913.4 185.1 L916.5 188.4 L919.6 191.7 L922.7 195.1 L925.7 198.5 L928.7 201.9 L931.7 205.4 L934.6 208.9 L937.5 212.4 L940.4 215.9 L943.2 219.5 L946.0 223.0 L948.8 226.6 L951.5 230.3 L954.3 233.9 L956.9 237.6 L959.6 241.3 L962.2 245.0 L964.8 248.8 L967.3 252.5 L969.9 256.3 L972.4 260.1 L974.9 263.9 L977.3 267.8 L979.7 271.6 L982.1 275.5 L984.5 279.4 L986.8 283.3 L989.2 287.2 L991.5 291.1 L993.7 295.0 L996.0 299.0 L998.2 303.0 L1000.4 307.0 L1002.6 310.9 L1004.8 315.0 L1006.9 319.0 L1009.1 323.0 L1011.2 327.1 L1013.2 331.2 L1015.3 335.2 L1017.3 339.3 L1019.3 343.5 L1021.3 347.6 L1023.3 351.7 L1025.2 355.9 L1027.1 360.1 L1029.0 364.2 L1030.9 368.5 L1032.7 372.7 L1034.5 376.9 L1036.2 381.2 L1038.0 385.4 L1039.6 389.7 L1041.3 394.0 L1042.9 398.4 L1044.5 402.7 L1046.1 407.1 L1047.6 411.4 L1049.0 415.8 L1050.5 420.2 L1051.8 424.7 L1053.2 429.1 L1054.5 433.6 L1055.7 438.0 L1056.9 442.5 L1058.1 447.0 L1059.2 451.5 L1060.2 456.1 L1061.2 460.6 L1062.2 465.1 L1063.1 469.7 L1064.0 474.3 L1064.8 478.9 L1065.5 483.5 L1066.2 488.1 L1066.9 492.7 L1067.5 497.3 L1068.0 501.9 L1068.5 506.6 L1069.0 511.2 L1069.4 515.9 L1069.8 520.5 L1070.1 525.2 L1070.3 529.8 L1070.6 534.5 L1070.7 539.2 L1070.8 543.8 L1070.9 548.5 L1070.9 553.2 L1070.9 557.8 L1070.9 562.5 L1070.8 567.2 L1070.6 571.9 L1070.4 576.5 L1070.2 581.2 L1069.9 585.9 L1069.5 590.5 L1069.2 595.2 L1068.8 599.8 L1068.3 604.5 L1067.8 609.1 L1067.2 613.8 L1066.6 618.4 L1066.0 623.1 L1065.3 627.7 L1064.6 632.3 L1063.8 636.9 L1063.0 641.5 L1062.1 646.1 L1061.2 650.7 L1060.2 655.3 L1059.2 659.8 L1058.1 664.4 L1057.0 668.9 L1055.8 673.5 L1054.6 678.0 L1053.3 682.5 L1052.0 687.0 L1050.6 691.4 L1049.2 695.9 L1047.7 700.3 L1046.2 704.7 L1044.6 709.1 L1043.0 713.5 L1041.3 717.8 L1039.5 722.2 L1037.8 726.5 L1035.9 730.8 L1034.0 735.0 L1032.1 739.3 L1030.1 743.5 L1028.0 747.7 L1026.0 751.8 L1023.8 756.0 L1021.6 760.1 L1019.4 764.1 L1017.2 768.2 L1014.9 772.2 L1012.5 776.2 L1010.2 780.2 L1007.7 784.2 L1005.3 788.1 L1002.8 792.0 L1000.3 795.9 L997.8 799.8 L995.2 803.6 L992.6 807.4 L990.0 811.2 L987.3 815.0 L984.7 818.8 L982.0 822.5 L979.3 826.2 L976.6 829.9 L973.8 833.6 L971.1 837.2 L968.3 840.9 L965.5 844.5 L962.7 848.1 L959.9 851.7 L957.1 855.3 L954.2 858.9 L951.3 862.4 L948.5 866.0 L945.6 869.5 L942.7 873.0 L939.8 876.6 L936.9 880.1 L933.9 883.5 L931.0 887.0 L928.0 890.5 L925.0 893.9 L922.0 897.4 L919.0 900.8 L916.0 904.2 L912.9 907.6 L909.8 911.0 L906.7 914.3 L903.6 917.7 L900.5 921.0 L897.3 924.3 L894.1 927.6 L890.9 930.8 L887.7 934.1 L884.4 937.3 L881.1 940.5 L877.8 943.7 L874.5 946.8 L871.1 949.9 L867.7 953.0 L864.3 956.0 L860.8 959.1 L857.3 962.0 L853.8 965.0 L850.2 967.9 L846.6 970.8 L843.0 973.6 L839.3 976.4 L835.7 979.2 L831.9 981.9 L828.2 984.6 L824.4 987.2 L820.6 989.8 L816.8 992.4 L812.9 994.9 L809.0 997.3 L805.1 999.7 L801.1 1002.1 L797.1 1004.4 L793.1 1006.7 L789.1 1008.9 L785.0 1011.1 L781.0 1013.3 L776.8 1015.3 L772.7 1017.4 L768.6 1019.4 L764.4 1021.3 L760.2 1023.2 L756.0 1025.1 L751.7 1026.9 L747.5 1028.6 L743.2 1030.3 L738.9 1032.0 L734.6 1033.6 L730.2 1035.1 L725.9 1036.6 L721.5 1038.1 L717.2 1039.5 L712.8 1040.9 L708.4 1042.2 L703.9 1043.4 L699.5 1044.7 L695.1 1045.8 L690.6 1046.9 L686.2 1048.0 L681.7 1049.0 L677.2 1050.0 L672.7 1050.9 L668.2 1051.8 L663.7 1052.6 L659.2 1053.4 L654.7 1054.1 L650.2 1054.8 L645.7 1055.4 L641.1 1056.0 L636.6 1056.6 L632.1 1057.1 L627.5 1057.5 L623.0 1057.9 L618.5 1058.3 L613.9 1058.6 L609.4 1058.8 L604.9 1059.1 L600.3 1059.3 L595.8 1059.4 L591.3 1059.5 L586.7 1059.6 L582.2 1059.6 L577.7 1059.6 L573.2 1059.6 L568.7 1059.5 L564.2 1059.4 L559.7 1059.2 L555.2 1059.0 L550.7 1058.8 L546.2 1058.6 L541.7 1058.3 L537.2 1058.0 L532.8 1057.7 L528.3 1057.3 L523.8 1056.9 L519.4 1056.5 L514.9 1056.1 L510.5 1055.6 L506.1 1055.1 L501.6 1054.6 L497.2 1054.0 L492.8 1053.5 L488.4 1052.9 L484.0 1052.3 L479.6 1051.6 L475.2 1051.0 L470.8 1050.3 L466.4 1049.6 L462.1 1048.8 L457.7 1048.1 L453.3 1047.3 L449.0 1046.5 L444.6 1045.6 L440.3 1044.7 L435.9 1043.8 L431.6 1042.9 L427.3 1042.0 L422.9 1041.0 L418.6 1040.0 L414.3 1038.9 L410.0 1037.8 L405.7 1036.7 L401.5 1035.5 L397.2 1034.4 L392.9 1033.1 L388.7 1031.9 L384.4 1030.6 L380.2 1029.2 L376.0 1027.9 L371.8 1026.5 L367.6 1025.0 L363.4 1023.5 L359.3 1022.0 L355.1 1020.5 L351.0 1018.8 L346.9 1017.2 L342.8 1015.5 L338.7 1013.8 L334.6 1012.1 L330.6 1010.3 L326.6 1008.4 L322.6 1006.6 L318.6 1004.7 L314.6 1002.7 L310.6 1000.7 L306.7 998.7 L302.7 996.7 L298.8 994.6 L294.9 992.5 L291.1 990.4 L287.2 988.2 L283.4 986.0 L279.5 983.8 L275.7 981.5 L271.9 979.2 L268.2 976.9 L264.4 974.6 L260.7 972.2 L257.0 969.8 L253.3 967.4 L249.6 965.0 L245.9 962.5 L242.2 960.0 L238.6 957.5 L235.0 954.9 L231.4 952.4 L227.8 949.8 L224.2 947.2 L220.6 944.5 L217.1 941.9 L213.6 939.2 L210.0 936.5 L206.6 933.7 L203.1 931.0 L199.6 928.2 L196.2 925.4 L192.8 922.5 L189.4 919.7 L186.0 916.8 L182.7 913.8 L179.4 910.9 L176.1 907.9 L172.8 904.9 L169.5 901.8 L166.3 898.7 L163.1 895.6 L160.0 892.5 L156.9 889.3 L153.8 886.1 L150.7 882.8 L147.7 879.5 L144.7 876.2 L141.7 872.9 L138.8 869.5 L135.9 866.1 L133.1 862.6 L130.3 859.2 L127.6 855.7 L124.8 852.1 L122.2 848.5 L119.5 844.9 L116.9 841.3 L114.4 837.6 L111.9 833.9 L109.4 830.2 L107.0 826.4 L104.6 822.7 L102.3 818.9 L100.0 815.0 L97.8 811.2 L95.6 807.3 L93.4 803.4 L91.3 799.5 L89.2 795.5 L87.2 791.5 L85.2 787.6 L83.2 783.6 L81.3 779.5 L79.4 775.5 L77.6 771.5 L75.8 767.4 L74.0 763.3 L72.2 759.2 L70.5 755.1 L68.8 751.0 L67.2 746.9 L65.6 742.7 L64.0 738.6 L62.4 734.5 L60.9 730.3 L59.4 726.1 L57.9 721.9 L56.4 717.8 L54.9 713.6 L53.5 709.4 L52.1 705.2 L50.7 700.9 L49.4 696.7 L48.1 692.5 L46.7 688.3 L45.4 684.0 L44.2 679.8 L42.9 675.5 L41.6 671.3 L40.4 667.0 L39.2 662.7 L38.0 658.4 L36.8 654.1 L35.7 649.8 L34.5 645.5 L33.4 641.2 L32.3 636.9 L31.2 632.6 L30.2 628.2 L29.1 623.9 L28.1 619.5 L27.1 615.2 L26.1 610.8 L25.2 606.4 L24.2 602.0 L23.3 597.6 L22.4 593.2 L21.6 588.7 L20.7 584.3 L19.9 579.8 L19.2 575.4 L18.4 570.9 L17.7 566.4 L17.0 561.9 L16.3 557.4 L15.7 552.9 L15.1 548.4 L14.6 543.9 L14.0 539.3 L13.6 534.8 L13.1 530.2 L12.7 525.6 L12.4 521.1 L12.0 516.5 L11.8 511.9 L11.6 507.3 L11.4 502.7 L11.2 498.1 L11.2 493.5 L11.1 488.9 L11.2 484.2 L11.2 479.6 L11.4 475.0 L11.5 470.4 L11.8 465.7 L12.1 461.1 L12.4 456.5 L12.8 451.9 L13.3 447.3 L13.8 442.7 L14.4 438.1 L15.1 433.5 L15.8 428.9 L16.6 424.3 L17.4 419.7 L18.3 415.2 L19.2 410.6 L20.3 406.1 L21.3 401.5 L22.5 397.0 L23.7 392.5 L24.9 388.1 L26.2 383.6 L27.6 379.2 L29.0 374.7 L30.5 370.3 L32.0 365.9 L33.6 361.6 L35.3 357.2 L37.0 352.9 L38.7 348.6 L40.5 344.3 L42.3 340.0 L44.2 335.7 L46.2 331.5 L48.1 327.3 L50.2 323.1 L52.2 318.9 L54.3 314.8 L56.5 310.7 L58.6 306.6 L60.8 302.5 L63.1 298.4 L65.4 294.4 L67.7 290.4 L70.0 286.4 L72.4 282.4 L74.8 278.4 L77.2 274.5 L79.7 270.5 L82.2 266.6 L84.7 262.7 L87.2 258.9 L89.8 255.0 L92.4 251.2 L95.0 247.4 L97.7 243.6 L100.3 239.8 L103.0 236.0 L105.8 232.3 L108.5 228.6 L111.3 224.9 L114.1 221.2 L116.9 217.5 L119.8 213.9 L122.7 210.3 L125.6 206.7 L128.6 203.1 L131.5 199.6 L134.6 196.1 L137.6 192.6 L140.7 189.1 L143.8 185.7 L146.9 182.3 L150.1 178.9 L153.3 175.6 L156.5 172.2 L159.8 169.0 L163.1 165.7 L166.4 162.5 L169.8 159.3 L173.2 156.2 L176.6 153.1 L180.1 150.0 L183.6 147.0 L187.1 144.0 L190.7 141.0 L194.3 138.1 L197.9 135.3 L201.5 132.4 L205.2 129.6 L208.9 126.9 L212.7 124.1 L216.4 121.5 L220.2 118.8 L224.1 116.2 L227.9 113.7 L231.8 111.1 L235.6 108.7 L239.6 106.2 L243.5 103.8 L247.4 101.4 L251.4 99.1 L255.4 96.8 L259.4 94.5 L263.4 92.2 L267.4 90.0 L271.5 87.8 L275.6 85.7 L279.6 83.5 L283.7 81.4 L287.8 79.4 L291.9 77.3 L296.1 75.3 L300.2 73.3 L304.3 71.3 L308.5 69.4 L312.7 67.5 L316.9 65.6 L321.0 63.7 L325.2 61.8 L329.5 60.0 L333.7 58.2 L337.9 56.4 L342.2 54.7 L346.4 53.0 L350.7 51.3 L355.0 49.6 L359.2 47.9 L363.5 46.3 L367.9 44.7 L372.2 43.2 L376.5 41.7 L380.9 40.2 L385.2 38.7 L389.6 37.3 L394.0 35.9 L398.4 34.5 L402.8 33.2 L407.3 31.9 L411.7 30.7 L416.2 29.5 L420.6 28.4 L425.1 27.3 L429.6 26.2 L434.1 25.2 L438.6 24.2 L443.1 23.3 L447.7 22.5 L452.2 21.6 L456.8 20.9 L461.3 20.2 L465.9 19.5 L470.5 18.9 L475.1 18.3 L479.7 17.8 L484.3 17.4 L488.9 17.0 L493.5 16.6 L498.1 16.3 L502.7 16.1 L507.3 15.9 L511.9 15.7 L516.5 15.6 L521.2 15.6 L525.8 15.6 L530.4 15.7 L535.0 15.8Z"/>
<path d="M535.0 200.2 L538.0 200.3 L541.0 200.5 L544.0 200.6 L547.0 200.8 L550.0 201.0 L553.0 201.3 L556.0 201.5 L559.0 201.8 L561.9 202.1 L564.9 202.5 L567.9 202.9 L570.9 203.2 L573.8 203.7 L576.8 204.1 L579.8 204.6 L582.7 205.1 L585.7 205.6 L588.6 206.1 L591.5 206.7 L594.5 207.3 L597.4 207.9 L600.3 208.6 L603.2 209.2 L606.1 209.9 L609.0 210.7 L611.9 211.4 L614.8 212.2 L617.7 213.0 L620.5 213.8 L623.4 214.7 L626.2 215.5 L629.1 216.4 L631.9 217.4 L634.7 218.3 L637.5 219.3 L640.4 220.3 L643.1 221.3 L645.9 222.3 L648.7 223.4 L651.5 224.5 L654.2 225.6 L657.0 226.8 L659.7 227.9 L662.4 229.1 L665.1 230.3 L667.9 231.5 L670.5 232.8 L673.2 234.1 L675.9 235.3 L678.6 236.7 L681.2 238.0 L683.8 239.3 L686.5 240.7 L689.1 242.1 L691.7 243.5 L694.3 244.9 L696.9 246.4 L699.5 247.8 L702.0 249.3 L704.6 250.8 L707.1 252.3 L709.6 253.8 L712.2 255.4 L714.7 257.0 L717.2 258.5 L719.7 260.2 L722.1 261.8 L724.6 263.4 L727.0 265.1 L729.5 266.8 L731.9 268.5 L734.3 270.2 L736.7 271.9 L739.1 273.7 L741.5 275.4 L743.8 277.2 L746.2 279.0 L748.5 280.9 L750.8 282.7 L753.1 284.6 L755.4 286.5 L757.6 288.4 L759.9 290.3 L762.1 292.2 L764.3 294.2 L766.5 296.2 L768.7 298.2 L770.9 300.2 L773.0 302.3 L775.1 304.4 L777.2 306.5 L779.3 308.6 L781.3 310.7 L783.4 312.9 L785.4 315.1 L787.3 317.3 L789.3 319.5 L791.2 321.7 L793.2 324.0 L795.1 326.3 L796.9 328.5 L798.8 330.9 L800.6 333.2 L802.4 335.6 L804.2 337.9 L805.9 340.3 L807.6 342.7 L809.3 345.1 L811.0 347.6 L812.6 350.0 L814.3 352.5 L815.9 355.0 L817.4 357.5 L819.0 360.0 L820.5 362.6 L822.0 365.1 L823.5 367.7 L824.9 370.2 L826.4 372.8 L827.8 375.4 L829.2 378.0 L830.5 380.6 L831.9 383.2 L833.2 385.9 L834.5 388.5 L835.8 391.2 L837.0 393.8 L838.3 396.5 L839.5 399.2 L840.7 401.9 L841.9 404.6 L843.0 407.3 L844.2 410.0 L845.3 412.7 L846.4 415.4 L847.5 418.2 L848.5 420.9 L849.6 423.6 L850.6 426.4 L851.6 429.2 L852.6 431.9 L853.5 434.7 L854.5 437.5 L855.4 440.3 L856.3 443.1 L857.2 445.9 L858.1 448.7 L858.9 451.5 L859.7 454.3 L860.6 457.1 L861.3 460.0 L862.1 462.8 L862.8 465.7 L863.5 468.5 L864.2 471.4 L864.9 474.2 L865.5 477.1 L866.2 480.0 L866.8 482.9 L867.3 485.7 L867.9 488.6 L868.4 491.5 L868.9 494.4 L869.3 497.3 L869.8 500.2 L870.2 503.2 L870.5 506.1 L870.9 509.0 L871.2 511.9 L871.5 514.9 L871.8 517.8 L872.0 520.7 L872.2 523.7 L872.4 526.6 L872.5 529.5 L872.6 532.5 L872.7 535.4 L872.8 538.4 L872.8 541.3 L872.8 544.3 L872.8 547.2 L872.7 550.2 L872.6 553.1 L872.5 556.0 L872.4 559.0 L872.2 561.9 L872.0 564.8 L871.8 567.8 L871.5 570.7 L871.2 573.6 L870.9 576.6 L870.6 579.5 L870.2 582.4 L869.9 585.3 L869.5 588.2 L869.0 591.1 L868.6 594.0 L868.1 596.9 L867.6 599.8 L867.1 602.7 L866.6 605.6 L866.0 608.5 L865.4 611.4 L864.8 614.3 L864.2 617.1 L863.6 620.0 L862.9 622.9 L862.3 625.7 L861.6 628.6 L860.9 631.4 L860.1 634.3 L859.4 637.1 L858.6 640.0 L857.8 642.8 L857.1 645.6 L856.2 648.4 L855.4 651.3 L854.6 654.1 L853.7 656.9 L852.8 659.7 L851.9 662.5 L851.0 665.3 L850.0 668.1 L849.1 670.9 L848.1 673.7 L847.1 676.5 L846.1 679.3 L845.1 682.0 L844.0 684.8 L843.0 687.6 L841.9 690.3 L840.7 693.1 L839.6 695.8 L838.5 698.5 L837.3 701.3 L836.1 704.0 L834.9 706.7 L833.7 709.4 L832.4 712.1 L831.1 714.8 L829.8 717.5 L828.5 720.2 L827.1 722.8 L825.8 725.5 L824.4 728.2 L823.0 730.8 L821.5 733.4 L820.1 736.1 L818.6 738.7 L817.1 741.3 L815.6 743.9 L814.0 746.4 L812.5 749.0 L810.9 751.6 L809.3 754.1 L807.6 756.6 L806.0 759.2 L804.3 761.7 L802.6 764.2 L800.8 766.6 L799.1 769.1 L797.3 771.6 L795.5 774.0 L793.7 776.5 L791.9 778.9 L790.0 781.3 L788.2 783.7 L786.3 786.1 L784.3 788.4 L782.4 790.8 L780.4 793.1 L778.5 795.4 L776.5 797.8 L774.4 800.1 L772.4 802.3 L770.3 804.6 L768.2 806.8 L766.1 809.1 L764.0 811.3 L761.9 813.5 L759.7 815.7 L757.5 817.9 L755.3 820.0 L753.1 822.1 L750.8 824.3 L748.5 826.3 L746.3 828.4 L743.9 830.5 L741.6 832.5 L739.3 834.5 L736.9 836.5 L734.5 838.5 L732.1 840.5 L729.7 842.4 L727.2 844.3 L724.7 846.2 L722.2 848.1 L719.7 849.9 L717.2 851.8 L714.6 853.6 L712.1 855.3 L709.5 857.1 L706.9 858.8 L704.2 860.5 L701.6 862.2 L698.9 863.8 L696.2 865.4 L693.5 867.0 L690.8 868.6 L688.1 870.1 L685.3 871.6 L682.6 873.1 L679.8 874.5 L677.0 875.9 L674.1 877.3 L671.3 878.7 L668.4 880.0 L665.6 881.3 L662.7 882.6 L659.8 883.8 L656.9 885.0 L654.0 886.2 L651.0 887.3 L648.1 888.5 L645.1 889.5 L642.2 890.6 L639.2 891.6 L636.2 892.6 L633.2 893.6 L630.2 894.5 L627.1 895.4 L624.1 896.3 L621.0 897.2 L618.0 898.0 L614.9 898.8 L611.9 899.5 L608.8 900.3 L605.7 901.0 L602.6 901.6 L599.5 902.3 L596.4 902.9 L593.3 903.5 L590.2 904.1 L587.1 904.6 L583.9 905.1 L580.8 905.6 L577.7 906.0 L574.5 906.4 L571.4 906.8 L568.2 907.2 L565.1 907.5 L561.9 907.8 L558.8 908.1 L555.6 908.3 L552.4 908.5 L549.3 908.7 L546.1 908.8 L542.9 909.0 L539.8 909.0 L536.6 909.1 L533.4 909.1 L530.2 909.1 L527.1 909.1 L523.9 909.0 L520.7 908.9 L517.6 908.8 L514.4 908.6 L511.2 908.4 L508.1 908.1 L504.9 907.9 L501.7 907.5 L498.6 907.2 L495.4 906.8 L492.3 906.4 L489.1 906.0 L486.0 905.5 L482.9 905.0 L479.8 904.4 L476.6 903.9 L473.5 903.2 L470.4 902.6 L467.3 901.9 L464.3 901.2 L461.2 900.4 L458.1 899.7 L455.0 898.8 L452.0 898.0 L449.0 897.1 L445.9 896.2 L442.9 895.3 L439.9 894.3 L436.9 893.3 L433.9 892.3 L430.9 891.3 L428.0 890.2 L425.0 889.1 L422.1 888.0 L419.1 886.8 L416.2 885.6 L413.3 884.4 L410.4 883.2 L407.5 882.0 L404.7 880.7 L401.8 879.4 L398.9 878.1 L396.1 876.8 L393.3 875.4 L390.4 874.1 L387.6 872.7 L384.8 871.3 L382.0 869.9 L379.2 868.5 L376.5 867.0 L373.7 865.5 L370.9 864.1 L368.2 862.6 L365.5 861.1 L362.7 859.5 L360.0 858.0 L357.3 856.4 L354.6 854.9 L351.9 853.3 L349.2 851.7 L346.6 850.0 L343.9 848.4 L341.2 846.7 L338.6 845.1 L336.0 843.4 L333.4 841.7 L330.7 840.0 L328.2 838.2 L325.6 836.4 L323.0 834.7 L320.4 832.9 L317.9 831.0 L315.4 829.2 L312.9 827.3 L310.4 825.4 L307.9 823.5 L305.4 821.6 L303.0 819.6 L300.5 817.7 L298.1 815.7 L295.7 813.6 L293.3 811.6 L291.0 809.5 L288.7 807.4 L286.4 805.3 L284.1 803.1 L281.8 800.9 L279.6 798.7 L277.4 796.5 L275.2 794.3 L273.0 792.0 L270.9 789.7 L268.8 787.3 L266.7 785.0 L264.7 782.6 L262.7 780.2 L260.7 777.8 L258.7 775.3 L256.8 772.9 L254.9 770.4 L253.0 767.8 L251.2 765.3 L249.4 762.7 L247.6 760.2 L245.9 757.6 L244.2 755.0 L242.5 752.3 L240.8 749.7 L239.2 747.0 L237.6 744.3 L236.0 741.6 L234.5 738.9 L232.9 736.2 L231.5 733.4 L230.0 730.7 L228.6 727.9 L227.2 725.1 L225.8 722.3 L224.4 719.5 L223.1 716.7 L221.8 713.9 L220.5 711.1 L219.2 708.2 L218.0 705.4 L216.8 702.6 L215.6 699.7 L214.4 696.8 L213.2 694.0 L212.1 691.1 L211.0 688.2 L209.9 685.3 L208.8 682.4 L207.8 679.5 L206.7 676.6 L205.7 673.7 L204.7 670.8 L203.8 667.8 L202.8 664.9 L201.9 662.0 L201.0 659.0 L200.1 656.1 L199.2 653.1 L198.4 650.2 L197.6 647.2 L196.7 644.2 L196.0 641.3 L195.2 638.3 L194.5 635.3 L193.8 632.3 L193.1 629.3 L192.4 626.3 L191.8 623.3 L191.2 620.3 L190.6 617.3 L190.1 614.3 L189.6 611.3 L189.1 608.2 L188.6 605.2 L188.2 602.2 L187.8 599.1 L187.4 596.1 L187.1 593.1 L186.7 590.0 L186.5 587.0 L186.2 583.9 L186.0 580.9 L185.8 577.8 L185.7 574.8 L185.5 571.7 L185.5 568.6 L185.4 565.6 L185.4 562.5 L185.4 559.5 L185.4 556.4 L185.5 553.4 L185.6 550.3 L185.7 547.3 L185.9 544.2 L186.1 541.2 L186.3 538.2 L186.6 535.1 L186.8 532.1 L187.1 529.1 L187.5 526.1 L187.8 523.0 L188.2 520.0 L188.6 517.0 L189.0 514.0 L189.5 511.0 L190.0 508.0 L190.5 505.0 L191.0 502.1 L191.5 499.1 L192.1 496.1 L192.7 493.2 L193.3 490.2 L193.9 487.2 L194.6 484.3 L195.2 481.3 L195.9 478.4 L196.6 475.5 L197.3 472.6 L198.0 469.6 L198.8 466.7 L199.5 463.8 L200.3 460.9 L201.1 458.0 L201.9 455.1 L202.8 452.2 L203.6 449.3 L204.5 446.5 L205.4 443.6 L206.3 440.7 L207.2 437.8 L208.1 435.0 L209.1 432.1 L210.0 429.3 L211.0 426.5 L212.1 423.6 L213.1 420.8 L214.1 418.0 L215.2 415.2 L216.3 412.4 L217.5 409.6 L218.6 406.8 L219.8 404.1 L221.0 401.3 L222.2 398.6 L223.5 395.8 L224.8 393.1 L226.1 390.4 L227.4 387.7 L228.8 385.0 L230.2 382.3 L231.6 379.7 L233.0 377.0 L234.5 374.4 L236.0 371.8 L237.6 369.2 L239.1 366.7 L240.7 364.1 L242.4 361.6 L244.0 359.0 L245.7 356.6 L247.4 354.1 L249.1 351.6 L250.9 349.2 L252.7 346.8 L254.5 344.4 L256.4 342.0 L258.2 339.6 L260.1 337.3 L262.0 335.0 L264.0 332.7 L265.9 330.4 L267.9 328.2 L269.9 326.0 L272.0 323.7 L274.0 321.6 L276.1 319.4 L278.2 317.2 L280.3 315.1 L282.4 313.0 L284.5 310.9 L286.7 308.8 L288.8 306.8 L291.0 304.7 L293.2 302.7 L295.4 300.7 L297.6 298.7 L299.9 296.7 L302.1 294.7 L304.4 292.8 L306.6 290.9 L308.9 288.9 L311.2 287.0 L313.5 285.1 L315.8 283.2 L318.1 281.4 L320.4 279.5 L322.7 277.6 L325.1 275.8 L327.4 274.0 L329.8 272.2 L332.2 270.4 L334.5 268.6 L336.9 266.8 L339.3 265.0 L341.7 263.3 L344.1 261.5 L346.5 259.8 L349.0 258.1 L351.4 256.4 L353.9 254.7 L356.4 253.0 L358.8 251.3 L361.3 249.7 L363.8 248.0 L366.4 246.4 L368.9 244.8 L371.4 243.2 L374.0 241.7 L376.6 240.1 L379.1 238.6 L381.7 237.1 L384.4 235.6 L387.0 234.2 L389.6 232.8 L392.3 231.4 L395.0 230.0 L397.6 228.6 L400.3 227.3 L403.1 226.0 L405.8 224.7 L408.5 223.5 L411.3 222.3 L414.1 221.1 L416.9 219.9 L419.7 218.8 L422.5 217.7 L425.3 216.7 L428.1 215.6 L431.0 214.6 L433.9 213.7 L436.7 212.8 L439.6 211.9 L442.5 211.0 L445.4 210.2 L448.3 209.4 L451.3 208.6 L454.2 207.9 L457.1 207.2 L460.1 206.6 L463.0 205.9 L466.0 205.3 L469.0 204.8 L471.9 204.3 L474.9 203.8 L477.9 203.3 L480.9 202.9 L483.9 202.5 L486.9 202.1 L489.9 201.8 L492.9 201.5 L495.9 201.2 L498.9 201.0 L501.9 200.7 L504.9 200.6 L507.9 200.4 L510.9 200.3 L513.9 200.2 L516.9 200.1 L520.0 200.1 L523.0 200.0 L526.0 200.0 L529.0 200.1 L532.0 200.1 L535.0 200.2Z"/>
<path d="M535.0 372.2 L536.5 372.2 L538.0 372.2 L539.5 372.3 L541.0 372.3 L542.5 372.4 L544.0 372.5 L545.5 372.6 L547.0 372.7 L548.5 372.9 L550.0 373.1 L551.5 373.3 L553.0 373.5 L554.5 373.7 L556.0 373.9 L557.5 374.2 L558.9 374.4 L560.4 374.7 L561.9 375.0 L563.4 375.3 L564.8 375.7 L566.3 376.0 L567.7 376.4 L569.2 376.7 L570.6 377.1 L572.1 377.5 L573.5 378.0 L574.9 378.4 L576.4 378.9 L577.8 379.3 L579.2 379.8 L580.6 380.3 L582.0 380.8 L583.4 381.3 L584.8 381.9 L586.2 382.4 L587.6 383.0 L588.9 383.6 L590.3 384.1 L591.7 384.7 L593.0 385.3 L594.4 386.0 L595.7 386.6 L597.0 387.2 L598.4 387.9 L599.7 388.6 L601.0 389.2 L602.3 389.9 L603.6 390.6 L604.9 391.3 L606.2 392.1 L607.5 392.8 L608.8 393.5 L610.0 394.3 L611.3 395.0 L612.5 395.8 L613.8 396.6 L615.0 397.4 L616.3 398.2 L617.5 399.0 L618.7 399.8 L619.9 400.6 L621.1 401.4 L622.3 402.2 L623.5 403.1 L624.7 403.9 L625.9 404.8 L627.1 405.7 L628.2 406.5 L629.4 407.4 L630.5 408.3 L631.7 409.2 L632.8 410.1 L634.0 411.0 L635.1 411.9 L636.2 412.8 L637.3 413.8 L638.4 414.7 L639.5 415.7 L640.6 416.6 L641.7 417.6 L642.8 418.5 L643.9 419.5 L645.0 420.5 L646.0 421.5 L647.1 422.4 L648.1 423.4 L649.2 424.4 L650.2 425.5 L651.2 426.5 L652.2 427.5 L653.3 428.5 L654.3 429.6 L655.3 430.6 L656.3 431.7 L657.3 432.7 L658.2 433.8 L659.2 434.8 L660.2 435.9 L661.1 437.0 L662.1 438.1 L663.0 439.2 L664.0 440.3 L664.9 441.4 L665.8 442.5 L666.7 443.7 L667.6 444.8 L668.5 445.9 L669.4 447.1 L670.3 448.2 L671.1 449.4 L672.0 450.6 L672.8 451.8 L673.7 452.9 L674.5 454.1 L675.3 455.3 L676.1 456.5 L676.9 457.8 L677.7 459.0 L678.5 460.2 L679.3 461.4 L680.0 462.7 L680.8 463.9 L681.5 465.2 L682.2 466.4 L682.9 467.7 L683.6 469.0 L684.3 470.3 L685.0 471.6 L685.6 472.9 L686.3 474.2 L686.9 475.5 L687.5 476.8 L688.2 478.1 L688.8 479.4 L689.3 480.8 L689.9 482.1 L690.5 483.5 L691.0 484.8 L691.5 486.2 L692.0 487.5 L692.5 488.9 L693.0 490.3 L693.5 491.7 L694.0 493.0 L694.4 494.4 L694.8 495.8 L695.2 497.2 L695.6 498.6 L696.0 500.0 L696.4 501.4 L696.7 502.9 L697.1 504.3 L697.4 505.7 L697.7 507.1 L698.0 508.5 L698.2 510.0 L698.5 511.4 L698.7 512.8 L699.0 514.3 L699.2 515.7 L699.4 517.2 L699.6 518.6 L699.7 520.0 L699.9 521.5 L700.0 522.9 L700.1 524.4 L700.2 525.8 L700.3 527.3 L700.4 528.7 L700.5 530.2 L700.5 531.6 L700.5 533.1 L700.6 534.5 L700.6 536.0 L700.5 537.4 L700.5 538.9 L700.5 540.3 L700.4 541.8 L700.4 543.2 L700.3 544.6 L700.2 546.1 L700.1 547.5 L700.0 549.0 L699.8 550.4 L699.7 551.8 L699.5 553.3 L699.3 554.7 L699.2 556.1 L699.0 557.5 L698.8 558.9 L698.6 560.4 L698.3 561.8 L698.1 563.2 L697.8 564.6 L697.6 566.0 L697.3 567.4 L697.0 568.8 L696.7 570.2 L696.4 571.6 L696.1 573.0 L695.8 574.4 L695.5 575.8 L695.1 577.2 L694.8 578.6 L694.4 579.9 L694.1 581.3 L693.7 582.7 L693.3 584.0 L692.9 585.4 L692.5 586.8 L692.1 588.1 L691.7 589.5 L691.3 590.9 L690.9 592.2 L690.4 593.6 L690.0 594.9 L689.5 596.3 L689.1 597.6 L688.6 598.9 L688.1 600.3 L687.6 601.6 L687.2 602.9 L686.7 604.3 L686.2 605.6 L685.7 606.9 L685.1 608.2 L684.6 609.6 L684.1 610.9 L683.6 612.2 L683.0 613.5 L682.5 614.8 L681.9 616.1 L681.3 617.4 L680.8 618.7 L680.2 620.1 L679.6 621.4 L679.0 622.7 L678.4 623.9 L677.8 625.2 L677.2 626.5 L676.5 627.8 L675.9 629.1 L675.3 630.4 L674.6 631.7 L674.0 633.0 L673.3 634.2 L672.6 635.5 L671.9 636.8 L671.2 638.0 L670.5 639.3 L669.8 640.6 L669.1 641.8 L668.4 643.1 L667.6 644.3 L666.9 645.6 L666.1 646.8 L665.4 648.0 L664.6 649.3 L663.8 650.5 L663.0 651.7 L662.2 652.9 L661.4 654.2 L660.6 655.4 L659.7 656.6 L658.9 657.8 L658.0 659.0 L657.1 660.1 L656.2 661.3 L655.3 662.5 L654.4 663.7 L653.5 664.8 L652.6 666.0 L651.6 667.1 L650.7 668.2 L649.7 669.4 L648.7 670.5 L647.7 671.6 L646.7 672.7 L645.7 673.8 L644.7 674.8 L643.7 675.9 L642.6 677.0 L641.5 678.0 L640.5 679.0 L639.4 680.1 L638.3 681.1 L637.2 682.1 L636.1 683.1 L634.9 684.1 L633.8 685.0 L632.6 686.0 L631.5 686.9 L630.3 687.8 L629.1 688.8 L627.9 689.7 L626.7 690.6 L625.5 691.4 L624.2 692.3 L623.0 693.1 L621.7 694.0 L620.5 694.8 L619.2 695.6 L617.9 696.4 L616.6 697.1 L615.3 697.9 L614.0 698.6 L612.7 699.4 L611.3 700.1 L610.0 700.8 L608.7 701.4 L607.3 702.1 L605.9 702.7 L604.6 703.4 L603.2 704.0 L601.8 704.6 L600.4 705.2 L599.0 705.7 L597.6 706.3 L596.2 706.8 L594.8 707.3 L593.4 707.8 L591.9 708.3 L590.5 708.8 L589.1 709.2 L587.6 709.6 L586.2 710.1 L584.7 710.5 L583.3 710.8 L581.8 711.2 L580.3 711.6 L578.9 711.9 L577.4 712.2 L575.9 712.5 L574.5 712.8 L573.0 713.1 L571.5 713.4 L570.0 713.6 L568.5 713.8 L567.1 714.1 L565.6 714.3 L564.1 714.4 L562.6 714.6 L561.1 714.8 L559.6 714.9 L558.1 715.1 L556.6 715.2 L555.1 715.3 L553.6 715.4 L552.1 715.4 L550.6 715.5 L549.2 715.6 L547.7 715.6 L546.2 715.6 L544.7 715.6 L543.2 715.6 L541.7 715.6 L540.2 715.6 L538.7 715.6 L537.2 715.5 L535.7 715.4 L534.3 715.4 L532.8 715.3 L531.3 715.2 L529.8 715.1 L528.3 715.0 L526.9 714.8 L525.4 714.7 L523.9 714.6 L522.4 714.4 L521.0 714.2 L519.5 714.0 L518.0 713.9 L516.6 713.6 L515.1 713.4 L513.6 713.2 L512.2 713.0 L510.7 712.7 L509.3 712.5 L507.8 712.2 L506.4 711.9 L504.9 711.6 L503.5 711.3 L502.0 711.0 L500.6 710.7 L499.1 710.4 L497.7 710.1 L496.3 709.7 L494.8 709.3 L493.4 709.0 L492.0 708.6 L490.6 708.2 L489.2 707.8 L487.7 707.4 L486.3 707.0 L484.9 706.5 L483.5 706.1 L482.1 705.6 L480.7 705.2 L479.3 704.7 L477.9 704.2 L476.5 703.7 L475.2 703.2 L473.8 702.7 L472.4 702.2 L471.0 701.6 L469.7 701.1 L468.3 700.5 L466.9 699.9 L465.6 699.3 L464.2 698.7 L462.9 698.1 L461.6 697.5 L460.2 696.8 L458.9 696.2 L457.6 695.5 L456.3 694.9 L455.0 694.2 L453.7 693.5 L452.4 692.8 L451.1 692.1 L449.8 691.3 L448.5 690.6 L447.3 689.8 L446.0 689.1 L444.7 688.3 L443.5 687.5 L442.3 686.7 L441.0 685.9 L439.8 685.1 L438.6 684.2 L437.4 683.4 L436.2 682.5 L435.0 681.6 L433.8 680.7 L432.6 679.9 L431.5 678.9 L430.3 678.0 L429.2 677.1 L428.1 676.2 L426.9 675.2 L425.8 674.2 L424.7 673.3 L423.6 672.3 L422.5 671.3 L421.4 670.3 L420.4 669.3 L419.3 668.2 L418.3 667.2 L417.2 666.1 L416.2 665.1 L415.2 664.0 L414.2 662.9 L413.2 661.8 L412.2 660.8 L411.3 659.6 L410.3 658.5 L409.3 657.4 L408.4 656.3 L407.5 655.1 L406.6 654.0 L405.7 652.8 L404.8 651.7 L403.9 650.5 L403.0 649.3 L402.2 648.1 L401.3 646.9 L400.5 645.7 L399.6 644.5 L398.8 643.3 L398.0 642.1 L397.2 640.9 L396.4 639.6 L395.7 638.4 L394.9 637.1 L394.1 635.9 L393.4 634.6 L392.7 633.3 L392.0 632.1 L391.2 630.8 L390.6 629.5 L389.9 628.2 L389.2 626.9 L388.5 625.6 L387.9 624.3 L387.2 623.0 L386.6 621.7 L386.0 620.4 L385.3 619.1 L384.7 617.8 L384.1 616.4 L383.6 615.1 L383.0 613.8 L382.4 612.4 L381.9 611.1 L381.3 609.7 L380.8 608.4 L380.3 607.0 L379.8 605.7 L379.2 604.3 L378.8 602.9 L378.3 601.6 L377.8 600.2 L377.3 598.8 L376.9 597.4 L376.4 596.1 L376.0 594.7 L375.6 593.3 L375.2 591.9 L374.7 590.5 L374.3 589.1 L374.0 587.7 L373.6 586.3 L373.2 584.9 L372.9 583.5 L372.5 582.1 L372.2 580.7 L371.9 579.3 L371.6 577.8 L371.2 576.4 L371.0 575.0 L370.7 573.6 L370.4 572.1 L370.1 570.7 L369.9 569.3 L369.7 567.8 L369.4 566.4 L369.2 565.0 L369.0 563.5 L368.8 562.1 L368.6 560.6 L368.5 559.2 L368.3 557.7 L368.2 556.3 L368.0 554.8 L367.9 553.4 L367.8 551.9 L367.7 550.5 L367.6 549.0 L367.5 547.6 L367.5 546.1 L367.4 544.6 L367.4 543.2 L367.4 541.7 L367.4 540.3 L367.4 538.8 L367.4 537.3 L367.4 535.9 L367.5 534.4 L367.5 532.9 L367.6 531.5 L367.7 530.0 L367.8 528.6 L367.9 527.1 L368.1 525.6 L368.2 524.2 L368.4 522.7 L368.5 521.3 L368.7 519.8 L368.9 518.4 L369.1 516.9 L369.4 515.5 L369.6 514.0 L369.9 512.6 L370.1 511.1 L370.4 509.7 L370.7 508.3 L371.1 506.8 L371.4 505.4 L371.7 504.0 L372.1 502.6 L372.5 501.1 L372.9 499.7 L373.3 498.3 L373.7 496.9 L374.1 495.5 L374.6 494.1 L375.0 492.7 L375.5 491.3 L376.0 489.9 L376.5 488.6 L377.0 487.2 L377.5 485.8 L378.1 484.5 L378.6 483.1 L379.2 481.8 L379.8 480.4 L380.4 479.1 L381.0 477.7 L381.6 476.4 L382.3 475.1 L382.9 473.8 L383.6 472.5 L384.2 471.2 L384.9 469.9 L385.6 468.6 L386.3 467.3 L387.1 466.1 L387.8 464.8 L388.5 463.5 L389.3 462.3 L390.0 461.0 L390.8 459.8 L391.6 458.6 L392.4 457.3 L393.2 456.1 L394.0 454.9 L394.8 453.7 L395.7 452.5 L396.5 451.3 L397.4 450.1 L398.3 449.0 L399.1 447.8 L400.0 446.7 L400.9 445.5 L401.8 444.4 L402.7 443.2 L403.6 442.1 L404.5 441.0 L405.5 439.9 L406.4 438.7 L407.4 437.6 L408.3 436.6 L409.3 435.5 L410.3 434.4 L411.2 433.3 L412.2 432.2 L413.2 431.2 L414.2 430.1 L415.2 429.1 L416.3 428.1 L417.3 427.0 L418.3 426.0 L419.3 425.0 L420.4 424.0 L421.4 423.0 L422.5 422.0 L423.6 421.0 L424.6 420.0 L425.7 419.0 L426.8 418.1 L427.9 417.1 L429.0 416.1 L430.1 415.2 L431.2 414.2 L432.3 413.3 L433.4 412.4 L434.6 411.5 L435.7 410.5 L436.8 409.6 L438.0 408.7 L439.1 407.9 L440.3 407.0 L441.5 406.1 L442.6 405.2 L443.8 404.4 L445.0 403.5 L446.2 402.7 L447.4 401.8 L448.6 401.0 L449.8 400.2 L451.1 399.4 L452.3 398.5 L453.5 397.7 L454.8 397.0 L456.0 396.2 L457.3 395.4 L458.5 394.6 L459.8 393.9 L461.1 393.1 L462.3 392.4 L463.6 391.7 L464.9 391.0 L466.2 390.3 L467.5 389.6 L468.8 388.9 L470.2 388.2 L471.5 387.6 L472.8 386.9 L474.2 386.3 L475.5 385.6 L476.9 385.0 L478.2 384.4 L479.6 383.8 L481.0 383.3 L482.3 382.7 L483.7 382.1 L485.1 381.6 L486.5 381.1 L487.9 380.6 L489.3 380.1 L490.7 379.6 L492.2 379.1 L493.6 378.6 L495.0 378.2 L496.4 377.8 L497.9 377.3 L499.3 376.9 L500.8 376.6 L502.2 376.2 L503.7 375.8 L505.2 375.5 L506.6 375.2 L508.1 374.9 L509.6 374.6 L511.0 374.3 L512.5 374.0 L514.0 373.8 L515.5 373.6 L517.0 373.4 L518.5 373.2 L520.0 373.0 L521.5 372.8 L523.0 372.7 L524.5 372.6 L526.0 372.4 L527.5 372.4 L529.0 372.3 L530.5 372.2 L532.0 372.2 L533.5 372.2 L535.0 372.2Z"/>
</g>
<path d="M535.0 428.8 L536.0 428.8 L537.0 428.8 L538.0 428.9 L539.0 428.9 L540.1 429.0 L541.1 429.0 L542.1 429.1 L543.1 429.1 L544.1 429.2 L545.1 429.3 L546.1 429.4 L547.1 429.5 L548.1 429.6 L549.1 429.8 L550.1 429.9 L551.1 430.0 L552.1 430.2 L553.1 430.3 L554.1 430.5 L555.1 430.7 L556.1 430.9 L557.1 431.0 L558.1 431.2 L559.1 431.5 L560.1 431.7 L561.1 431.9 L562.1 432.1 L563.0 432.4 L564.0 432.6 L565.0 432.9 L566.0 433.2 L566.9 433.4 L567.9 433.7 L568.9 434.0 L569.8 434.3 L570.8 434.6 L571.8 434.9 L572.7 435.3 L573.7 435.6 L574.6 436.0 L575.6 436.3 L576.5 436.7 L577.5 437.0 L578.4 437.4 L579.3 437.8 L580.3 438.2 L581.2 438.6 L582.1 439.0 L583.0 439.4 L584.0 439.8 L584.9 440.3 L585.8 440.7 L586.7 441.1 L587.6 441.6 L588.5 442.1 L589.4 442.5 L590.3 443.0 L591.2 443.5 L592.1 444.0 L593.0 444.5 L593.8 445.0 L594.7 445.5 L595.6 446.0 L596.4 446.5 L597.3 447.0 L598.2 447.6 L599.0 448.1 L599.9 448.6 L600.7 449.2 L601.6 449.8 L602.4 450.3 L603.2 450.9 L604.1 451.5 L604.9 452.1 L605.7 452.7 L606.5 453.3 L607.4 453.9 L608.2 454.5 L609.0 455.1 L609.8 455.7 L610.6 456.3 L611.4 457.0 L612.1 457.6 L612.9 458.3 L613.7 458.9 L614.5 459.6 L615.2 460.3 L616.0 460.9 L616.8 461.6 L617.5 462.3 L618.3 463.0 L619.0 463.7 L619.7 464.4 L620.5 465.1 L621.2 465.8 L621.9 466.6 L622.6 467.3 L623.3 468.1 L624.0 468.8 L624.7 469.6 L625.4 470.3 L626.1 471.1 L626.7 471.9 L627.4 472.6 L628.0 473.4 L628.7 474.2 L629.3 475.0 L630.0 475.8 L630.6 476.6 L631.2 477.5 L631.8 478.3 L632.4 479.1 L633.0 479.9 L633.6 480.8 L634.2 481.6 L634.7 482.5 L635.3 483.4 L635.8 484.2 L636.4 485.1 L636.9 486.0 L637.4 486.9 L637.9 487.7 L638.4 488.6 L638.9 489.5 L639.4 490.4 L639.9 491.4 L640.3 492.3 L640.8 493.2 L641.2 494.1 L641.7 495.1 L642.1 496.0 L642.5 496.9 L642.9 497.9 L643.3 498.8 L643.7 499.8 L644.1 500.7 L644.4 501.7 L644.8 502.6 L645.1 503.6 L645.5 504.6 L645.8 505.6 L646.1 506.5 L646.4 507.5 L646.7 508.5 L647.0 509.5 L647.2 510.5 L647.5 511.5 L647.8 512.4 L648.0 513.4 L648.2 514.4 L648.4 515.4 L648.7 516.4 L648.9 517.4 L649.1 518.4 L649.2 519.4 L649.4 520.5 L649.6 521.5 L649.7 522.5 L649.9 523.5 L650.0 524.5 L650.1 525.5 L650.2 526.5 L650.3 527.5 L650.4 528.5 L650.5 529.6 L650.6 530.6 L650.7 531.6 L650.7 532.6 L650.8 533.6 L650.8 534.6 L650.9 535.6 L650.9 536.7 L650.9 537.7 L650.9 538.7 L650.9 539.7 L650.9 540.7 L650.9 541.7 L650.9 542.7 L650.8 543.7 L650.8 544.7 L650.7 545.8 L650.7 546.8 L650.6 547.8 L650.5 548.8 L650.4 549.8 L650.3 550.8 L650.2 551.8 L650.1 552.8 L650.0 553.8 L649.9 554.8 L649.8 555.8 L649.6 556.8 L649.5 557.8 L649.3 558.8 L649.1 559.8 L649.0 560.7 L648.8 561.7 L648.6 562.7 L648.4 563.7 L648.2 564.7 L648.0 565.7 L647.7 566.6 L647.5 567.6 L647.3 568.6 L647.0 569.5 L646.8 570.5 L646.5 571.5 L646.2 572.4 L645.9 573.4 L645.6 574.3 L645.4 575.3 L645.0 576.3 L644.7 577.2 L644.4 578.1 L644.1 579.1 L643.7 580.0 L643.4 581.0 L643.0 581.9 L642.7 582.8 L642.3 583.7 L641.9 584.7 L641.6 585.6 L641.2 586.5 L640.8 587.4 L640.4 588.3 L639.9 589.2 L639.5 590.1 L639.1 591.0 L638.6 591.9 L638.2 592.8 L637.7 593.7 L637.3 594.5 L636.8 595.4 L636.3 596.3 L635.9 597.1 L635.4 598.0 L634.9 598.9 L634.4 599.7 L633.8 600.5 L633.3 601.4 L632.8 602.2 L632.3 603.1 L631.7 603.9 L631.2 604.7 L630.6 605.5 L630.1 606.3 L629.5 607.1 L628.9 608.0 L628.4 608.8 L627.8 609.5 L627.2 610.3 L626.6 611.1 L626.0 611.9 L625.4 612.7 L624.8 613.4 L624.1 614.2 L623.5 615.0 L622.9 615.7 L622.2 616.5 L621.6 617.2 L621.0 617.9 L620.3 618.7 L619.6 619.4 L619.0 620.1 L618.3 620.8 L617.6 621.6 L617.0 622.3 L616.3 623.0 L615.6 623.7 L614.9 624.4 L614.2 625.0 L613.5 625.7 L612.8 626.4 L612.0 627.1 L611.3 627.7 L610.6 628.4 L609.9 629.1 L609.1 629.7 L608.4 630.4 L607.7 631.0 L606.9 631.6 L606.2 632.3 L605.4 632.9 L604.6 633.5 L603.9 634.1 L603.1 634.7 L602.3 635.3 L601.5 635.9 L600.7 636.5 L600.0 637.1 L599.2 637.6 L598.4 638.2 L597.6 638.8 L596.7 639.3 L595.9 639.9 L595.1 640.4 L594.3 641.0 L593.5 641.5 L592.6 642.0 L591.8 642.5 L590.9 643.0 L590.1 643.6 L589.2 644.0 L588.4 644.5 L587.5 645.0 L586.7 645.5 L585.8 646.0 L584.9 646.4 L584.1 646.9 L583.2 647.3 L582.3 647.7 L581.4 648.2 L580.5 648.6 L579.6 649.0 L578.7 649.4 L577.8 649.8 L576.9 650.2 L576.0 650.6 L575.1 650.9 L574.2 651.3 L573.2 651.6 L572.3 652.0 L571.4 652.3 L570.4 652.6 L569.5 653.0 L568.6 653.3 L567.6 653.6 L566.7 653.8 L565.7 654.1 L564.8 654.4 L563.8 654.7 L562.9 654.9 L561.9 655.1 L561.0 655.4 L560.0 655.6 L559.0 655.8 L558.1 656.0 L557.1 656.2 L556.1 656.4 L555.1 656.5 L554.2 656.7 L553.2 656.9 L552.2 657.0 L551.2 657.1 L550.3 657.2 L549.3 657.4 L548.3 657.5 L547.3 657.5 L546.3 657.6 L545.3 657.7 L544.4 657.8 L543.4 657.8 L542.4 657.9 L541.4 657.9 L540.4 657.9 L539.4 657.9 L538.4 657.9 L537.5 657.9 L536.5 657.9 L535.5 657.9 L534.5 657.8 L533.5 657.8 L532.5 657.7 L531.6 657.7 L530.6 657.6 L529.6 657.5 L528.6 657.4 L527.6 657.3 L526.7 657.2 L525.7 657.1 L524.7 657.0 L523.8 656.9 L522.8 656.7 L521.8 656.6 L520.8 656.4 L519.9 656.2 L518.9 656.0 L518.0 655.9 L517.0 655.7 L516.0 655.5 L515.1 655.3 L514.1 655.0 L513.2 654.8 L512.2 654.6 L511.3 654.3 L510.4 654.1 L509.4 653.8 L508.5 653.6 L507.5 653.3 L506.6 653.0 L505.7 652.7 L504.7 652.4 L503.8 652.1 L502.9 651.8 L502.0 651.5 L501.1 651.2 L500.1 650.9 L499.2 650.5 L498.3 650.2 L497.4 649.8 L496.5 649.5 L495.6 649.1 L494.7 648.7 L493.8 648.4 L492.9 648.0 L492.1 647.6 L491.2 647.2 L490.3 646.8 L489.4 646.4 L488.5 646.0 L487.7 645.5 L486.8 645.1 L485.9 644.7 L485.1 644.2 L484.2 643.8 L483.3 643.3 L482.5 642.9 L481.6 642.4 L480.8 642.0 L479.9 641.5 L479.1 641.0 L478.3 640.5 L477.4 640.0 L476.6 639.5 L475.8 639.0 L474.9 638.5 L474.1 638.0 L473.3 637.5 L472.5 637.0 L471.7 636.4 L470.9 635.9 L470.1 635.4 L469.3 634.8 L468.5 634.3 L467.7 633.7 L466.9 633.1 L466.1 632.6 L465.3 632.0 L464.5 631.4 L463.7 630.8 L463.0 630.3 L462.2 629.7 L461.4 629.1 L460.7 628.5 L459.9 627.9 L459.1 627.2 L458.4 626.6 L457.6 626.0 L456.9 625.4 L456.1 624.7 L455.4 624.1 L454.7 623.4 L453.9 622.8 L453.2 622.1 L452.5 621.5 L451.8 620.8 L451.0 620.1 L450.3 619.4 L449.6 618.7 L448.9 618.0 L448.2 617.4 L447.5 616.6 L446.8 615.9 L446.2 615.2 L445.5 614.5 L444.8 613.8 L444.1 613.0 L443.5 612.3 L442.8 611.6 L442.2 610.8 L441.5 610.0 L440.9 609.3 L440.2 608.5 L439.6 607.7 L439.0 607.0 L438.4 606.2 L437.7 605.4 L437.1 604.6 L436.5 603.8 L435.9 603.0 L435.4 602.1 L434.8 601.3 L434.2 600.5 L433.6 599.7 L433.1 598.8 L432.5 598.0 L432.0 597.1 L431.5 596.3 L431.0 595.4 L430.4 594.5 L429.9 593.6 L429.4 592.8 L428.9 591.9 L428.5 591.0 L428.0 590.1 L427.5 589.2 L427.1 588.3 L426.6 587.3 L426.2 586.4 L425.8 585.5 L425.4 584.6 L425.0 583.6 L424.6 582.7 L424.2 581.8 L423.8 580.8 L423.4 579.9 L423.1 578.9 L422.7 577.9 L422.4 577.0 L422.1 576.0 L421.8 575.0 L421.5 574.1 L421.2 573.1 L420.9 572.1 L420.6 571.1 L420.4 570.1 L420.1 569.1 L419.9 568.1 L419.7 567.1 L419.5 566.1 L419.3 565.1 L419.1 564.1 L418.9 563.1 L418.7 562.1 L418.5 561.1 L418.4 560.1 L418.2 559.1 L418.1 558.0 L418.0 557.0 L417.9 556.0 L417.8 555.0 L417.7 554.0 L417.6 552.9 L417.5 551.9 L417.5 550.9 L417.4 549.9 L417.4 548.8 L417.3 547.8 L417.3 546.8 L417.3 545.8 L417.3 544.7 L417.3 543.7 L417.3 542.7 L417.3 541.7 L417.3 540.6 L417.3 539.6 L417.4 538.6 L417.4 537.6 L417.5 536.5 L417.5 535.5 L417.6 534.5 L417.7 533.5 L417.8 532.4 L417.8 531.4 L417.9 530.4 L418.0 529.4 L418.2 528.3 L418.3 527.3 L418.4 526.3 L418.5 525.3 L418.7 524.3 L418.8 523.2 L419.0 522.2 L419.1 521.2 L419.3 520.2 L419.4 519.2 L419.6 518.1 L419.8 517.1 L420.0 516.1 L420.2 515.1 L420.4 514.1 L420.6 513.0 L420.8 512.0 L421.0 511.0 L421.2 510.0 L421.5 509.0 L421.7 508.0 L422.0 507.0 L422.2 505.9 L422.5 504.9 L422.7 503.9 L423.0 502.9 L423.3 501.9 L423.6 500.9 L423.9 499.9 L424.2 498.9 L424.5 497.9 L424.8 496.9 L425.1 495.9 L425.5 494.9 L425.8 493.9 L426.2 492.9 L426.5 491.9 L426.9 490.9 L427.3 489.9 L427.7 488.9 L428.1 487.9 L428.5 487.0 L428.9 486.0 L429.3 485.0 L429.8 484.0 L430.2 483.1 L430.7 482.1 L431.1 481.1 L431.6 480.2 L432.1 479.2 L432.6 478.3 L433.1 477.4 L433.6 476.4 L434.2 475.5 L434.7 474.6 L435.3 473.7 L435.8 472.7 L436.4 471.8 L437.0 470.9 L437.6 470.0 L438.2 469.2 L438.8 468.3 L439.4 467.4 L440.1 466.6 L440.7 465.7 L441.4 464.9 L442.1 464.0 L442.8 463.2 L443.5 462.4 L444.2 461.6 L444.9 460.8 L445.6 460.0 L446.4 459.2 L447.1 458.4 L447.9 457.7 L448.6 456.9 L449.4 456.2 L450.2 455.5 L451.0 454.7 L451.8 454.0 L452.6 453.3 L453.5 452.7 L454.3 452.0 L455.1 451.3 L456.0 450.7 L456.9 450.0 L457.7 449.4 L458.6 448.8 L459.5 448.2 L460.4 447.6 L461.3 447.0 L462.2 446.4 L463.1 445.9 L464.0 445.3 L465.0 444.8 L465.9 444.3 L466.8 443.7 L467.8 443.2 L468.7 442.7 L469.7 442.3 L470.6 441.8 L471.6 441.3 L472.5 440.9 L473.5 440.4 L474.5 440.0 L475.5 439.6 L476.4 439.2 L477.4 438.8 L478.4 438.4 L479.4 438.0 L480.4 437.7 L481.4 437.3 L482.4 437.0 L483.4 436.6 L484.4 436.3 L485.4 436.0 L486.4 435.6 L487.4 435.3 L488.4 435.0 L489.4 434.8 L490.4 434.5 L491.4 434.2 L492.4 433.9 L493.4 433.7 L494.5 433.4 L495.5 433.2 L496.5 432.9 L497.5 432.7 L498.5 432.5 L499.5 432.3 L500.5 432.1 L501.5 431.9 L502.6 431.7 L503.6 431.5 L504.6 431.3 L505.6 431.1 L506.6 431.0 L507.6 430.8 L508.6 430.6 L509.7 430.5 L510.7 430.3 L511.7 430.2 L512.7 430.1 L513.7 430.0 L514.7 429.8 L515.7 429.7 L516.8 429.6 L517.8 429.5 L518.8 429.4 L519.8 429.3 L520.8 429.2 L521.8 429.2 L522.8 429.1 L523.8 429.0 L524.9 429.0 L525.9 428.9 L526.9 428.9 L527.9 428.8 L528.9 428.8 L529.9 428.8 L530.9 428.8 L532.0 428.8 L533.0 428.8 L534.0 428.8 L535.0 428.8Z" fill="#4b4b4b" stroke="#171414" stroke-width="3.4"/>
<g font-family="'Liberation Sans', sans-serif" font-weight="bold" fill="#141414" stroke="#141414" stroke-width="0.45" stroke-linejoin="round">
<g transform="translate(536.7 95.8) rotate(-90.2)"><text transform="translate(-57.5 0) scale(0.925 1)" y="6.6" font-size="18.5" stroke-width="0.57">LIP-TREMBLE</text></g>
<g transform="translate(576.5 113.5) rotate(-86.3)"><text transform="translate(-20.5 0) scale(0.928 1)" y="6.6" font-size="18.5" stroke-width="0.57">LIMP</text></g>
<g transform="translate(614.0 126.5) rotate(-79.8)"><text transform="translate(-34.0 0) scale(1.000 1)" y="7.0" font-size="19.4" stroke-width="0.45">HIDING</text></g>
<g transform="translate(648.0 140.0) rotate(-74.8)"><text transform="translate(-17.7 0) scale(0.908 1)" y="6.6" font-size="18.5" stroke-width="0.60">HOT</text></g>
<g transform="translate(687.0 143.0) rotate(-68.5)"><text transform="translate(-29.5 0) scale(0.858 1)" y="6.6" font-size="18.5" stroke-width="0.68">SCOWL</text></g>
<g transform="translate(727.5 152.5) rotate(-62.2)"><text transform="translate(-68.2 0) scale(0.935 1)" y="6.6" font-size="18.5" stroke-width="0.55">TURNING AWAY</text></g>
<g transform="translate(761.2 173.8) rotate(-59.3)"><text transform="translate(-65.6 0) scale(1.000 1)" y="6.8" font-size="18.9" stroke-width="0.45">LOUD WORDS</text></g>
<g transform="translate(786.2 201.2) rotate(-52.9)"><text transform="translate(-42.8 0) scale(0.979 1)" y="6.6" font-size="18.5" stroke-width="0.48">FLUSHED</text></g>
<g transform="translate(816.2 218.8) rotate(-46.1)"><text transform="translate(-30.8 0) scale(1.014 1)" y="7.3" font-size="20.5" stroke-width="0.45">RACING</text><path transform="translate(-43.0 -6.2) scale(1.2)" d="M0 3.6 C-1.2 -1.8 -7.6 -1.0 -6.6 4.0 C-6.0 7.2 -2.2 9.6 0 12 C2.2 9.6 6.0 7.2 6.6 4.0 C7.6 -1.0 1.2 -1.8 0 3.6 Z" fill="none" stroke="#141414" stroke-width="2.2" stroke-linejoin="round"/></g>
<g transform="translate(853.8 237.5) rotate(-42.9)"><text transform="translate(-59.3 0) scale(1.000 1)" y="7.1" font-size="19.9" stroke-width="0.45">CLENCHING</text></g>
<g transform="translate(868.8 272.5) rotate(-38.8)"><text transform="translate(-56.0 0) scale(1.000 1)" y="7.3" font-size="20.4" stroke-width="0.45">TIGHT JAW</text></g>
<g transform="translate(886.2 303.8) rotate(-35.0)"><text transform="translate(-50.3 0) scale(0.959 1)" y="6.6" font-size="18.5" stroke-width="0.52">HEADACHE</text></g>
<g transform="translate(908.8 333.8) rotate(-30.2)"><text transform="translate(-29.6 0) scale(1.000 1)" y="7.1" font-size="19.8" stroke-width="0.45">NUMB</text></g>
<g transform="translate(937.5 362.5) rotate(-25.7)"><text transform="translate(-63.7 0) scale(0.985 1)" y="6.6" font-size="18.5" stroke-width="0.47">GUT-TURNING</text></g>
<g transform="translate(944.0 401.5) rotate(-19.7)"><text transform="translate(-63.7 0) scale(1.000 1)" y="6.8" font-size="19.0" stroke-width="0.45">FEELING HOT</text></g>
<g transform="translate(952.5 440.8) rotate(-13.0)"><text transform="translate(-49.8 0) scale(0.897 1)" y="6.6" font-size="18.5" stroke-width="0.61">LIP CURLED</text></g>
<g transform="translate(970.0 479.1) rotate(-8.7)"><text transform="translate(-59.0 0) scale(0.949 1)" y="6.6" font-size="18.5" stroke-width="0.53">SHUDDERING</text></g>
<g transform="translate(970.9 513.4) rotate(-3.7)"><text transform="translate(-51.0 0) scale(1.000 1)" y="7.2" font-size="20.2" stroke-width="0.45">WRITHING</text></g>
<g transform="translate(971.0 551.0) rotate(1.6)"><text transform="translate(-64.0 0) scale(0.903 1)" y="6.6" font-size="18.5" stroke-width="0.61">NEED TO MOVE</text></g>
<g transform="translate(973.5 584.0) rotate(4.9)"><text transform="translate(-71.8 0) scale(0.821 1)" y="6.6" font-size="18.5" stroke-width="0.74">FACE-SCRUNCHED</text></g>
<g transform="translate(967.5 623.5) rotate(11.9)"><text transform="translate(-39.4 0) scale(1.000 1)" y="6.7" font-size="18.7" stroke-width="0.45">NAUSEA</text></g>
<g transform="translate(964.0 659.0) rotate(16.1)"><text transform="translate(-77.2 0) scale(0.976 1)" y="6.6" font-size="18.5" stroke-width="0.49">LUMP IN THROAT</text></g>
<g transform="translate(943.0 690.0) rotate(19.9)"><text transform="translate(-38.3 0) scale(0.980 1)" y="6.6" font-size="18.5" stroke-width="0.48">QUEASY</text></g>
<g transform="translate(927.5 723.8) rotate(26.2)"><text transform="translate(-53.1 0) scale(0.940 1)" y="6.6" font-size="18.5" stroke-width="0.55">TURN AWAY</text></g>
<g transform="translate(912.5 760.9) rotate(31.1)"><text transform="translate(-65.4 0) scale(0.872 1)" y="6.6" font-size="18.5" stroke-width="0.65">LOOKING DOWN</text></g>
<g transform="translate(891.7 790.0) rotate(33.9)"><text transform="translate(-30.1 0) scale(0.944 1)" y="6.6" font-size="18.5" stroke-width="0.54">EMPTY</text></g>
<g transform="translate(873.4 820.0) rotate(40.2)"><text transform="translate(-61.5 0) scale(1.000 1)" y="7.1" font-size="19.8" stroke-width="0.45">CURLING UP</text></g>
<g transform="translate(850.8 853.4) rotate(44.1)"><text transform="translate(-59.5 0) scale(1.000 1)" y="7.1" font-size="19.8" stroke-width="0.45">SLOUCHING</text></g>
<g transform="translate(818.4 878.4) rotate(49.4)"><text transform="translate(-41.4 0) scale(1.038 1)" y="7.3" font-size="20.5" stroke-width="0.45">CRYING</text></g>
<g transform="translate(790.9 899.2) rotate(52.9)"><text transform="translate(-59.5 0) scale(0.965 1)" y="6.6" font-size="18.5" stroke-width="0.51">BODY ACHES</text></g>
<g transform="translate(761.2 920.6) rotate(56.2)"><text transform="translate(-56.3 0) scale(1.000 1)" y="7.0" font-size="19.7" stroke-width="0.45">TIREDNESS</text></g>
<g transform="translate(728.8 950.0) rotate(63.0)"><text transform="translate(-75.5 0) scale(0.901 1)" y="6.6" font-size="18.5" stroke-width="0.61">HOLLOW FEELING</text></g>
<g transform="translate(692.5 960.6) rotate(68.5)"><text transform="translate(-34.2 0) scale(0.865 1)" y="6.6" font-size="18.5" stroke-width="0.67">SLOW</text><path transform="translate(26.0 -6.2) scale(1.2)" d="M0 3.6 C-1.2 -1.8 -7.6 -1.0 -6.6 4.0 C-6.0 7.2 -2.2 9.6 0 12 C2.2 9.6 6.0 7.2 6.6 4.0 C7.6 -1.0 1.2 -1.8 0 3.6 Z" fill="none" stroke="#141414" stroke-width="2.2" stroke-linejoin="round"/></g>
<g transform="translate(653.1 966.2) rotate(73.9)"><text transform="translate(-52.0 0) scale(0.973 1)" y="6.6" font-size="18.5" stroke-width="0.49">HEAVINESS</text></g>
<g transform="translate(617.5 980.6) rotate(79.5)"><text transform="translate(-29.8 0) scale(1.000 1)" y="7.0" font-size="19.5" stroke-width="0.45">WEAK</text></g>
<g transform="translate(578.1 987.5) rotate(84.4)"><text transform="translate(-44.0 0) scale(0.839 1)" y="6.6" font-size="18.5" stroke-width="0.71">EYE ROLLS</text></g>
<g transform="translate(538.8 993.1) rotate(269.9)"><text transform="translate(-36.9 0) scale(0.897 1)" y="6.6" font-size="18.5" stroke-width="0.61">BUZZING</text></g>
<g transform="translate(501.2 990.6) rotate(274.5)"><text transform="translate(-28.2 0) scale(1.000 1)" y="6.7" font-size="18.8" stroke-width="0.45">LIGHT</text></g>
<g transform="translate(461.9 983.8) rotate(281.2)"><text transform="translate(-26.8 0) scale(0.901 1)" y="6.6" font-size="18.5" stroke-width="0.61">WARM</text></g>
<g transform="translate(425.0 958.8) rotate(286.1)"><text transform="translate(-45.5 0) scale(0.942 1)" y="6.6" font-size="18.5" stroke-width="0.54">SENSITIVE</text></g>
<g transform="translate(385.6 961.9) rotate(292.9)"><text transform="translate(-24.3 0) scale(0.947 1)" y="6.6" font-size="18.5" stroke-width="0.54">STILL</text></g>
<g transform="translate(348.8 941.9) rotate(294.0)"><text transform="translate(-43.1 0) scale(0.975 1)" y="6.6" font-size="18.5" stroke-width="0.49">RELAXED</text></g>
<g transform="translate(314.1 925.9) rotate(302.4)"><text transform="translate(-34.9 0) scale(0.930 1)" y="6.6" font-size="18.5" stroke-width="0.56">STEADY</text></g>
<g transform="translate(285.9 907.5) rotate(306.5)"><text transform="translate(-42.9 0) scale(1.000 1)" y="6.9" font-size="19.3" stroke-width="0.45">JAW SET</text></g>
<g transform="translate(252.5 891.6) rotate(312.8)"><text transform="translate(-30.0 0) scale(1.014 1)" y="7.3" font-size="20.5" stroke-width="0.45">CALM</text></g>
<g transform="translate(220.0 864.2) rotate(315.8)"><text transform="translate(-26.6 0) scale(1.000 1)" y="7.1" font-size="19.9" stroke-width="0.45">SOFT</text></g>
<g transform="translate(189.2 835.0) rotate(322.2)"><text transform="translate(-23.3 0) scale(0.987 1)" y="6.6" font-size="18.5" stroke-width="0.47">TALL</text></g>
<g transform="translate(168.3 802.5) rotate(325.4)"><text transform="translate(-42.6 0) scale(0.930 1)" y="6.6" font-size="18.5" stroke-width="0.56">INFLATED</text></g>
<g transform="translate(152.5 760.9) rotate(332.1)"><text transform="translate(-63.0 0) scale(0.851 1)" y="6.6" font-size="18.5" stroke-width="0.69">BROW-FURROW</text></g>
<g transform="translate(128.3 733.3) rotate(334.9)"><text transform="translate(-35.0 0) scale(1.000 1)" y="6.6" font-size="18.5" stroke-width="0.45">AWAKE</text></g>
<g transform="translate(120.0 685.9) rotate(342.2)"><text transform="translate(-52.5 0) scale(0.972 1)" y="6.6" font-size="18.5" stroke-width="0.49">ENERGETIC</text></g>
<g transform="translate(92.5 653.3) rotate(347.8)"><text transform="translate(-24.7 0) scale(0.943 1)" y="6.6" font-size="18.5" stroke-width="0.54">OPEN</text></g>
<g transform="translate(80.8 618.3) rotate(351.1)"><text transform="translate(-29.6 0) scale(0.928 1)" y="6.6" font-size="18.5" stroke-width="0.57">JUMPY</text></g>
<g transform="translate(90.0 574.1) rotate(356.0)"><text transform="translate(-58.4 0) scale(0.964 1)" y="6.6" font-size="18.5" stroke-width="0.51">ELECTRIFIED</text></g>
<g transform="translate(86.7 534.2) rotate(2.2)"><text transform="translate(-60.1 0) scale(0.866 1)" y="6.6" font-size="18.5" stroke-width="0.67">EYEBROWS UP</text></g>
<g transform="translate(80.0 493.4) rotate(7.2)"><text transform="translate(-52.1 0) scale(1.000 1)" y="6.9" font-size="19.3" stroke-width="0.45">JAW DROP</text></g>
<g transform="translate(89.2 451.6) rotate(12.8)"><text transform="translate(-59.0 0) scale(0.949 1)" y="6.6" font-size="18.5" stroke-width="0.53">SPEECHLESS</text></g>
<g transform="translate(101.7 412.5) rotate(17.1)"><text transform="translate(-64.6 0) scale(1.000 1)" y="6.8" font-size="19.1" stroke-width="0.45">BREATHLESS</text></g>
<g transform="translate(121.8 376.2) rotate(22.1)"><text transform="translate(-75.0 0) scale(1.000 1)" y="6.7" font-size="18.6" stroke-width="0.45">SWEATY PALMS</text></g>
<g transform="translate(107.5 329.1) rotate(25.8)"><text transform="translate(-32.4 0) scale(1.000 1)" y="6.7" font-size="18.8" stroke-width="0.45">JUMPY</text></g>
<g transform="translate(151.7 307.5) rotate(31.0)"><text transform="translate(-56.5 0) scale(1.000 1)" y="6.8" font-size="19.0" stroke-width="0.45">TREMBLING</text></g>
<g transform="translate(178.3 282.5) rotate(36.0)"><text transform="translate(-66.2 0) scale(1.000 1)" y="6.9" font-size="19.4" stroke-width="0.45">NUMB HANDS</text></g>
<g transform="translate(198.3 245.0) rotate(39.3)"><text transform="translate(-45.0 0) scale(1.013 1)" y="7.3" font-size="20.5" stroke-width="0.45">FIDGETY</text></g>
<g transform="translate(235.0 225.0) rotate(45.2)"><text transform="translate(-77.8 0) scale(1.004 1)" y="7.3" font-size="20.5" stroke-width="0.45">FOOT-TAPPING</text></g>
<g transform="translate(260.0 192.5) rotate(46.5)"><text transform="translate(-52.5 0) scale(1.044 1)" y="7.3" font-size="20.5" stroke-width="0.45">RACING</text><path transform="translate(44.2 -6.2) scale(1.2)" d="M0 3.6 C-1.2 -1.8 -7.6 -1.0 -6.6 4.0 C-6.0 7.2 -2.2 9.6 0 12 C2.2 9.6 6.0 7.2 6.6 4.0 C7.6 -1.0 1.2 -1.8 0 3.6 Z" fill="none" stroke="#141414" stroke-width="2.2" stroke-linejoin="round"/></g>
<g transform="translate(273.3 154.2) rotate(51.1)"><text transform="translate(-28.9 0) scale(1.000 1)" y="6.8" font-size="18.9" stroke-width="0.45">QUIET</text></g>
<g transform="translate(316.6 155.8) rotate(55.2)"><text transform="translate(-40.0 0) scale(1.000 1)" y="7.0" font-size="19.5" stroke-width="0.45">FROZEN</text></g>
<g transform="translate(343.8 121.2) rotate(61.2)"><text transform="translate(-33.0 0) scale(1.000 1)" y="7.1" font-size="19.8" stroke-width="0.45">TENSE</text></g>
<g transform="translate(388.4 124.2) rotate(68.5)"><text transform="translate(-22.5 0) scale(0.857 1)" y="6.6" font-size="18.5" stroke-width="0.68">COLD</text></g>
<g transform="translate(418.3 102.5) rotate(72.7)"><text transform="translate(-49.8 0) scale(0.979 1)" y="6.6" font-size="18.5" stroke-width="0.48">UNSTEADY</text></g>
<g transform="translate(455.8 102.5) rotate(80.3)"><text transform="translate(-46.4 0) scale(0.961 1)" y="6.6" font-size="18.5" stroke-width="0.51">BLUSHING</text></g>
<g transform="translate(493.4 80.8) rotate(86.7)"><text transform="translate(-39.2 0) scale(1.000 1)" y="6.8" font-size="19.1" stroke-width="0.45">TENDER</text></g>
<g transform="translate(551.5 276.5) rotate(-88.8)"><text transform="translate(-23.5 0) scale(0.915 1)" y="6.6" font-size="18.5" stroke-width="0.59">HURT</text></g>
<g transform="translate(597.5 292.5) rotate(-76.0)"><text transform="translate(-42.8 0) scale(0.896 1)" y="6.6" font-size="18.5" stroke-width="0.62">INSECURE</text></g>
<g transform="translate(641.5 314.5) rotate(-65.4)"><text transform="translate(-34.7 0) scale(0.803 1)" y="6.6" font-size="18.5" stroke-width="0.76">HATEFUL</text></g>
<g transform="translate(676.2 338.8) rotate(-56.6)"><text transform="translate(-19.8 0) scale(0.938 1)" y="6.6" font-size="18.5" stroke-width="0.55">MAD</text></g>
<g transform="translate(718.8 357.5) rotate(-49.2)"><text transform="translate(-55.9 0) scale(0.913 1)" y="6.6" font-size="18.5" stroke-width="0.59">AGGRESSIVE</text></g>
<g transform="translate(750.0 392.5) rotate(-38.7)"><text transform="translate(-51.5 0) scale(1.000 1)" y="6.9" font-size="19.3" stroke-width="0.45">IRRITATED</text></g>
<g transform="translate(766.5 429.0) rotate(-28.2)"><text transform="translate(-35.8 0) scale(0.893 1)" y="6.6" font-size="18.5" stroke-width="0.62">DISTANT</text></g>
<g transform="translate(776.0 469.0) rotate(-17.5)"><text transform="translate(-43.0 0) scale(0.997 1)" y="6.6" font-size="18.5" stroke-width="0.46">CRITICAL</text></g>
<g transform="translate(787.0 515.0) rotate(-6.4)"><text transform="translate(-64.4 0) scale(0.964 1)" y="6.6" font-size="18.5" stroke-width="0.51">DISAPPROVAL</text></g>
<g transform="translate(788.4 560.5) rotate(4.7)"><text transform="translate(-67.0 0) scale(0.965 1)" y="6.6" font-size="18.5" stroke-width="0.51">DISAPPOINTED</text></g>
<g transform="translate(780.9 603.4) rotate(14.3)"><text transform="translate(-32.0 0) scale(0.957 1)" y="6.6" font-size="18.5" stroke-width="0.52">AWFUL</text></g>
<g transform="translate(767.0 646.5) rotate(23.7)"><text transform="translate(-47.2 0) scale(0.977 1)" y="6.6" font-size="18.5" stroke-width="0.49">AVERSION</text></g>
<g transform="translate(749.0 684.9) rotate(30.8)"><text transform="translate(-24.1 0) scale(0.869 1)" y="6.6" font-size="18.5" stroke-width="0.66">GUILT</text></g>
<g transform="translate(728.4 719.1) rotate(41.0)"><text transform="translate(-55.0 0) scale(0.914 1)" y="6.6" font-size="18.5" stroke-width="0.59">ABANDONED</text></g>
<g transform="translate(698.3 758.3) rotate(50.6)"><text transform="translate(-39.1 0) scale(0.950 1)" y="6.6" font-size="18.5" stroke-width="0.53">DESPAIR</text></g>
<g transform="translate(656.6 791.7) rotate(62.7)"><text transform="translate(-50.7 0) scale(0.889 1)" y="6.6" font-size="18.5" stroke-width="0.63">DEPRESSED</text></g>
<g transform="translate(610.8 815.8) rotate(70.1)"><text transform="translate(-34.8 0) scale(0.928 1)" y="6.6" font-size="18.5" stroke-width="0.56">LONELY</text></g>
<g transform="translate(562.5 820.0) rotate(84.1)"><text transform="translate(-52.0 0) scale(0.983 1)" y="6.6" font-size="18.5" stroke-width="0.48">APATHETIC</text></g>
<g transform="translate(516.5 832.0) rotate(277.8)"><text transform="translate(-48.6 0) scale(0.918 1)" y="6.6" font-size="18.5" stroke-width="0.58">OPTIMISTIC</text></g>
<g transform="translate(475.5 813.0) rotate(286.0)"><text transform="translate(-46.0 0) scale(1.000 1)" y="7.0" font-size="19.5" stroke-width="0.45">INTIMATE</text></g>
<g transform="translate(431.5 807.0) rotate(296.3)"><text transform="translate(-44.9 0) scale(0.902 1)" y="6.6" font-size="18.5" stroke-width="0.61">PEACEFUL</text></g>
<g transform="translate(392.5 772.0) rotate(303.5)"><text transform="translate(-60.2 0) scale(0.894 1)" y="6.6" font-size="18.5" stroke-width="0.62">COURAGEOUS</text></g>
<g transform="translate(348.0 750.5) rotate(314.6)"><text transform="translate(-47.7 0) scale(0.988 1)" y="6.6" font-size="18.5" stroke-width="0.47">SATISFIED</text></g>
<g transform="translate(301.2 717.0) rotate(321.6)"><text transform="translate(-30.4 0) scale(0.910 1)" y="6.6" font-size="18.5" stroke-width="0.59">PROUD</text></g>
<g transform="translate(282.1 672.8) rotate(335.2)"><text transform="translate(-39.0 0) scale(0.913 1)" y="6.6" font-size="18.5" stroke-width="0.59">CURIOUS</text></g>
<g transform="translate(255.5 617.9) rotate(343.6)"><text transform="translate(-16.4 0) scale(0.887 1)" y="6.6" font-size="18.5" stroke-width="0.63">JOY</text></g>
<g transform="translate(262.1 568.0) rotate(352.3)"><text transform="translate(-55.2 0) scale(0.926 1)" y="6.6" font-size="18.5" stroke-width="0.57">EXCITEMENT</text></g>
<g transform="translate(254.2 517.4) rotate(3.1)"><text transform="translate(-20.9 0) scale(0.967 1)" y="6.6" font-size="18.5" stroke-width="0.50">AWE</text></g>
<g transform="translate(266.8 470.0) rotate(13.8)"><text transform="translate(-52.3 0) scale(0.942 1)" y="6.6" font-size="18.5" stroke-width="0.54">CONFUSION</text></g>
<g transform="translate(276.6 418.9) rotate(24.4)"><text transform="translate(-31.1 0) scale(0.932 1)" y="6.6" font-size="18.5" stroke-width="0.56">SHOCK</text></g>
<g transform="translate(304.6 380.2) rotate(32.4)"><text transform="translate(-33.7 0) scale(0.863 1)" y="6.6" font-size="18.5" stroke-width="0.67">SCARED</text></g>
<g transform="translate(339.1 355.9) rotate(43.5)"><text transform="translate(-42.4 0) scale(1.000 1)" y="6.7" font-size="18.6" stroke-width="0.45">ANXIOUS</text></g>
<g transform="translate(375.0 323.3) rotate(51.2)"><text transform="translate(-45.0 0) scale(0.942 1)" y="6.6" font-size="18.5" stroke-width="0.54">INSECURE</text></g>
<g transform="translate(414.5 298.9) rotate(61.5)"><text transform="translate(-43.0 0) scale(0.974 1)" y="6.6" font-size="18.5" stroke-width="0.49">INFERIOR</text></g>
<g transform="translate(459.2 283.3) rotate(71.7)"><text transform="translate(-52.7 0) scale(0.977 1)" y="6.6" font-size="18.5" stroke-width="0.49">UNWANTED</text></g>
<g transform="translate(504.5 285.4) rotate(81.8)"><text transform="translate(-73.7 0) scale(1.000 1)" y="6.7" font-size="18.8" stroke-width="0.45">EMBARRASSED</text></g>
<g transform="translate(605.8 435.9) rotate(34.8)"><text transform="translate(-33.5 0) scale(1.000 1)" y="6.6" font-size="18.6" stroke-width="0.45">ANGER</text></g>
<g transform="translate(668.4 570.9) rotate(281.3)"><text transform="translate(-31.6 0) scale(0.768 1)" y="6.6" font-size="18.5" stroke-width="0.82">DISGUST</text></g>
<g transform="translate(602.5 661.6) rotate(329.4)"><text transform="translate(-19.6 0) scale(1.000 1)" y="6.7" font-size="18.6" stroke-width="0.45">SAD</text></g>
<g transform="translate(450.0 647.9) rotate(397.6)"><text transform="translate(-33.0 0) scale(1.000 1)" y="6.9" font-size="19.2" stroke-width="0.45">HAPPY</text></g>
<g transform="translate(399.1 518.4) rotate(98.6)"><text transform="translate(-38.8 0) scale(0.820 1)" y="6.6" font-size="18.5" stroke-width="0.74">SURPRISE</text></g>
<g transform="translate(457.5 430.0) rotate(-30.4)"><text transform="translate(-24.4 0) scale(0.968 1)" y="6.6" font-size="18.5" stroke-width="0.50">FEAR</text></g>
</g>
<g font-family="'Liberation Sans', sans-serif" fill="#ffffff" stroke="#ffffff" stroke-width="1.0" stroke-linejoin="round">
<text x="442.5" y="513.5" font-size="45.0" textLength="180.0" lengthAdjust="spacingAndGlyphs" >EMOTION-</text>
<text x="448.5" y="556.3" font-size="46.0" textLength="169.0" lengthAdjust="spacingAndGlyphs" >SENSATION</text>
<text x="477.5" y="591.3" font-size="43.5" textLength="116.5" lengthAdjust="spacingAndGlyphs" >WHEEL</text>
</g>
<g font-family="'Liberation Sans', sans-serif" font-size="19.0" fill="#9c9c9c" stroke="#9c9c9c" stroke-width="0.9" stroke-linejoin="round"><text transform="translate(477.8 623.7) rotate(10.6) scale(0.732 1)" y="6.8" text-anchor="middle">L</text><text transform="translate(483.5 624.7) rotate(9.1) scale(0.732 1)" y="6.8" text-anchor="middle">I</text><text transform="translate(490.4 625.7) rotate(7.4) scale(0.732 1)" y="6.8" text-anchor="middle">N</text><text transform="translate(500.4 626.8) rotate(4.9) scale(0.732 1)" y="6.8" text-anchor="middle">D</text><text transform="translate(510.0 627.5) rotate(2.7) scale(0.732 1)" y="6.8" text-anchor="middle">S</text><text transform="translate(519.3 627.7) rotate(0.5) scale(0.732 1)" y="6.8" text-anchor="middle">A</text><text transform="translate(528.6 627.6) rotate(-1.5) scale(0.732 1)" y="6.8" text-anchor="middle">Y</text><text transform="translate(537.8 627.2) rotate(-3.5) scale(0.732 1)" y="6.8" text-anchor="middle">B</text><text transform="translate(547.4 626.5) rotate(-5.4) scale(0.732 1)" y="6.8" text-anchor="middle">R</text><text transform="translate(557.0 625.4) rotate(-7.3) scale(0.732 1)" y="6.8" text-anchor="middle">A</text><text transform="translate(567.4 623.9) rotate(-9.2) scale(0.732 1)" y="6.8" text-anchor="middle">M</text><text transform="translate(577.6 622.1) rotate(-11.0) scale(0.732 1)" y="6.8" text-anchor="middle">A</text><text transform="translate(587.1 620.1) rotate(-12.6) scale(0.732 1)" y="6.8" text-anchor="middle">N</text></g>
<g font-family="'Liberation Sans', sans-serif" fill="#9c9c9c" stroke="#9c9c9c" stroke-width="0.8"><text transform="translate(465.5 617) rotate(8)" y="8.6" font-size="24" text-anchor="middle">©</text></g>
<path d="M595.5 614 l6 -3 M596.5 618 l6.5 0 M596 622 l5.5 2.5" stroke="#9c9c9c" stroke-width="1.7" fill="none" stroke-linecap="round"/>
<g font-family="'Liberation Sans', sans-serif" font-size="18.0" fill="#3a3a3a"><text transform="translate(556.0 1084.5) rotate(3.4) scale(0.866 1)" text-anchor="middle">I</text><text transform="translate(564.6 1085.0) rotate(2.7) scale(0.866 1)" text-anchor="middle">M</text><text transform="translate(576.3 1085.4) rotate(1.6) scale(0.866 1)" text-anchor="middle">A</text><text transform="translate(587.6 1085.6) rotate(0.5) scale(0.866 1)" text-anchor="middle">G</text><text transform="translate(598.8 1085.6) rotate(-0.7) scale(0.866 1)" text-anchor="middle">E</text><text transform="translate(613.6 1085.2) rotate(-2.3) scale(0.866 1)" text-anchor="middle">A</text><text transform="translate(624.4 1084.6) rotate(-3.6) scale(0.866 1)" text-anchor="middle">N</text><text transform="translate(635.6 1083.8) rotate(-5.0) scale(0.866 1)" text-anchor="middle">D</text><text transform="translate(651.1 1082.2) rotate(-6.9) scale(0.866 1)" text-anchor="middle">C</text><text transform="translate(662.7 1080.7) rotate(-8.4) scale(0.866 1)" text-anchor="middle">O</text><text transform="translate(674.2 1078.9) rotate(-9.9) scale(0.866 1)" text-anchor="middle">N</text><text transform="translate(685.3 1076.9) rotate(-11.3) scale(0.866 1)" text-anchor="middle">C</text><text transform="translate(695.9 1074.6) rotate(-12.5) scale(0.866 1)" text-anchor="middle">E</text><text transform="translate(706.0 1072.3) rotate(-13.6) scale(0.866 1)" text-anchor="middle">P</text><text transform="translate(715.7 1069.8) rotate(-15.0) scale(0.866 1)" text-anchor="middle">T</text></g>
<g font-family="'Liberation Sans', sans-serif" font-size="18.0" fill="#3a3a3a"><text transform="translate(735.2 1064.1) rotate(-17.8) scale(0.994 1)" text-anchor="middle">©</text><text transform="translate(746.2 1060.4) rotate(-19.3) scale(0.994 1)" text-anchor="middle">2</text><text transform="translate(755.5 1057.0) rotate(-20.3) scale(0.994 1)" text-anchor="middle">0</text><text transform="translate(764.8 1053.4) rotate(-21.8) scale(0.994 1)" text-anchor="middle">2</text><text transform="translate(774.0 1049.6) rotate(-23.4) scale(0.994 1)" text-anchor="middle">0</text><text transform="translate(787.6 1043.5) rotate(-24.9) scale(0.994 1)" text-anchor="middle">L</text><text transform="translate(794.3 1040.3) rotate(-26.2) scale(0.994 1)" text-anchor="middle">I</text><text transform="translate(802.3 1036.3) rotate(-27.3) scale(0.994 1)" text-anchor="middle">N</text><text transform="translate(813.7 1030.2) rotate(-28.8) scale(0.994 1)" text-anchor="middle">D</text><text transform="translate(824.5 1024.0) rotate(-30.7) scale(0.994 1)" text-anchor="middle">S</text><text transform="translate(834.7 1017.7) rotate(-32.3) scale(0.994 1)" text-anchor="middle">A</text><text transform="translate(844.7 1011.2) rotate(-34.0) scale(0.994 1)" text-anchor="middle">Y</text><text transform="translate(858.5 1001.5) rotate(-36.1) scale(0.994 1)" text-anchor="middle">B</text><text transform="translate(868.4 994.1) rotate(-37.8) scale(0.994 1)" text-anchor="middle">R</text><text transform="translate(878.2 986.3) rotate(-39.3) scale(0.994 1)" text-anchor="middle">A</text><text transform="translate(888.5 977.7) rotate(-40.7) scale(0.994 1)" text-anchor="middle">M</text><text transform="translate(898.5 968.8) rotate(-41.9) scale(0.994 1)" text-anchor="middle">A</text><text transform="translate(907.7 960.4) rotate(-43.3) scale(0.994 1)" text-anchor="middle">N</text><text transform="translate(914.1 954.2) rotate(-44.1) scale(0.994 1)" text-anchor="middle">.</text></g>
</svg>
</body></html>
